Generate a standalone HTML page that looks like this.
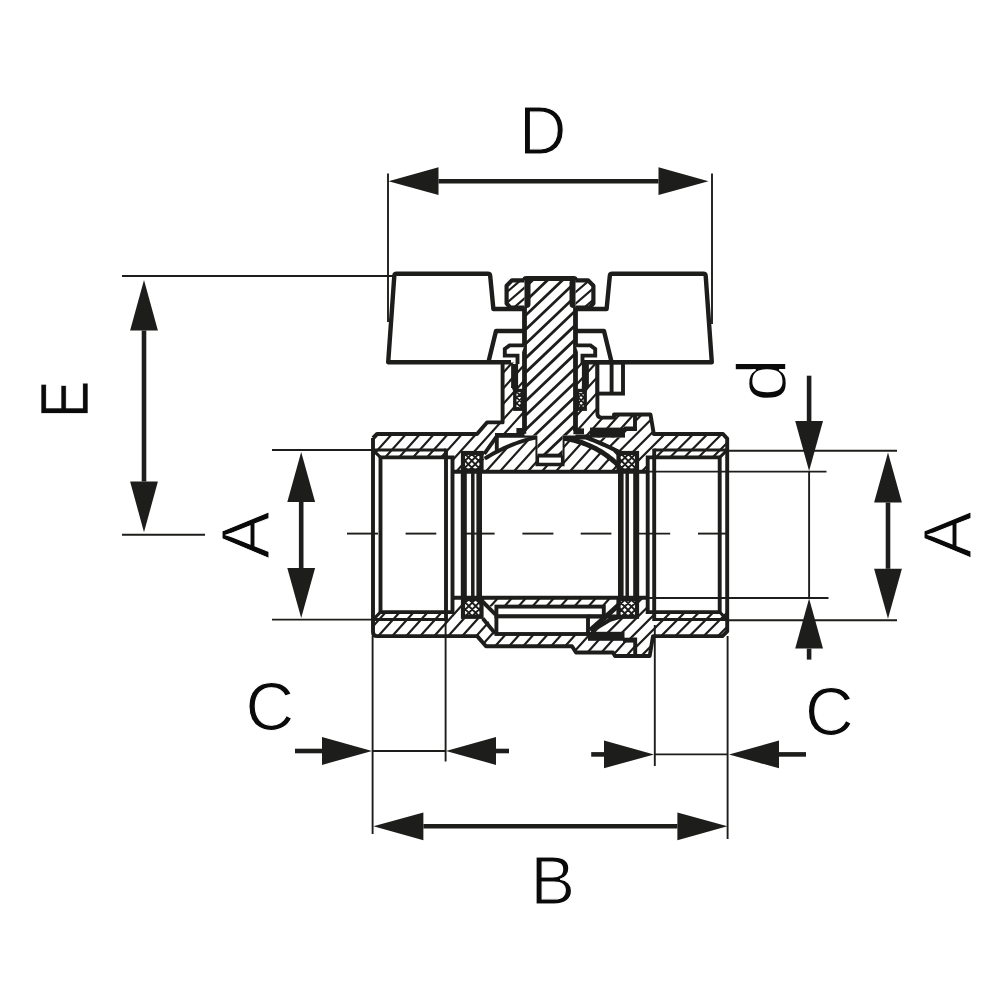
<!DOCTYPE html>
<html lang="en">
<head>
<meta charset="utf-8">
<title>Ball valve dimension drawing</title>
<style>
html,body{margin:0;padding:0;background:#fff;}
body{width:1000px;height:1000px;overflow:hidden;font-family:"Liberation Sans",sans-serif;}
svg{display:block;}
svg text{font-family:"Liberation Sans",sans-serif;}
</style>
</head>
<body>
<svg width="1000" height="1000" viewBox="0 0 1000 1000">
<rect width="1000" height="1000" fill="#fff"/>
<defs>
<clipPath id="c1"><path d="M373,438 L377,434 L477,434 L487,422.4 L502.6,422.4 L502.6,362.4 L597.4,362.4 L597.4,417.6 L614,417.6 L614,414.5 L650.5,414.5 L653.8,434 L723,434 L727.2,438 L727.2,632 L723,636.1 L653,636.1 L649.7,656 L615,656 L613,652.5 L576,652.5 L572,646.2 L486,646.2 L477.2,636.1 L377,636.1 L373,632 Z" clip-rule="nonzero"/></clipPath>
<clipPath id="c2"><path d="M588,437.4 L625,437.4 L625,431 L635,431 L635,414.5 L650.5,414.5 L653.8,434 L723,434 L727.2,438.6 L727.2,458 L647.6,458 L647.6,471.8 L639,471.8 L639,451.4 L621,453.2 L606,445.4 Z" clip-rule="nonzero"/></clipPath>
<clipPath id="c3"><path d="M588,632.2 L625,632.2 L625,638.6 L635.2,638.6 L635.2,656 L649.7,656 L653,636.1 L722.4,636.1 L727.2,631.4 L727.2,611 L647.6,611 L647.6,597.8 L639,597.8 L639,618 L622,616.5 L592.5,632.2 Z" clip-rule="nonzero"/></clipPath>
<clipPath id="c4"><path d="M473,471.8 L473,462 L484.8,458.6 L484.8,458.6 L487.47,456.95 L490.18,455.35 L492.92,453.8 L495.7,452.31 L498.52,450.86 L501.38,449.46 L504.27,448.12 L507.2,446.82 L510.17,445.58 L513.17,444.39 L516.22,443.25 L519.3,442.16 L522.42,441.12 L525.58,440.13 L528.77,439.19 L532,438.3 L537.4,437.4 L562.6,438.12 L564.48,438.38 L566.36,438.68 L568.24,439.02 L570.12,439.4 L572,439.81 L573.88,440.27 L575.76,440.76 L577.64,441.3 L579.52,441.88 L581.4,442.49 L583.28,443.16 L585.16,443.86 L587.04,444.61 L588.92,445.4 L590.8,446.25 L592.68,447.14 L594.56,448.08 L596.44,449.07 L598.32,450.12 L600.2,451.22 L602.08,452.37 L603.96,453.59 L605.84,454.87 L607.72,456.22 L609.6,457.64 L611.48,459.13 L613.36,460.69 L615.24,462.34 L617.12,464.08 L619,465.91 L627,465 L627,471.8 Z M537.4,430 L562.6,430 L562.6,464.4 L537.4,464.4 Z" clip-rule="evenodd"/></clipPath>
<clipPath id="c5"><path d="M466,597.8 L636,597.8 L636,606.6 L466,606.6 Z" clip-rule="nonzero"/></clipPath>
<clipPath id="c6"><path d="M524.5,278.5 L575.5,278.5 L575.5,435.6 L562.6,435.6 L562.6,455.5 L537.4,455.5 L537.4,435.6 L524.5,435.6 Z" clip-rule="nonzero"/></clipPath>
<clipPath id="c7"><path d="M524.5,280.3 L512,280.3 L506.6,285.8 L506.6,303.5 L510.5,307.6 L524.5,307.6 Z" clip-rule="nonzero"/></clipPath>
<clipPath id="c8"><path d="M575.5,280.3 L588,280.3 L593.4,285.8 L593.4,303.5 L589.5,307.6 L575.5,307.6 Z" clip-rule="nonzero"/></clipPath>
<clipPath id="c9"><path d="M514.8,391 L522.6,391 L522.6,408.8 L514.8,408.8 Z" clip-rule="nonzero"/></clipPath>
<clipPath id="c10"><path d="M577.4,391 L585.2,391 L585.2,408.8 L577.4,408.8 Z" clip-rule="nonzero"/></clipPath>
<clipPath id="c11"><path d="M463,453 L481.5,453 L481.5,470.5 L463,470.5 Z" clip-rule="nonzero"/></clipPath>
<clipPath id="c12"><path d="M618.5,453 L637,453 L637,470.5 L618.5,470.5 Z" clip-rule="nonzero"/></clipPath>
<clipPath id="c13"><path d="M463,599 L481.5,599 L481.5,616.8 L463,616.8 Z" clip-rule="nonzero"/></clipPath>
<clipPath id="c14"><path d="M618.5,599 L637,599 L637,616.8 L618.5,616.8 Z" clip-rule="nonzero"/></clipPath>
</defs>
<path d="M373,438 L377,434 L477,434 L487,422.4 L502.6,422.4 L502.6,362.4 L597.4,362.4 L597.4,417.6 L614,417.6 L614,414.5 L650.5,414.5 L653.8,434 L723,434 L727.2,438 L727.2,632 L723,636.1 L653,636.1 L649.7,656 L615,656 L613,652.5 L576,652.5 L572,646.2 L486,646.2 L477.2,636.1 L377,636.1 L373,632 Z" fill="#fff" fill-rule="nonzero"/>
<path d="M347.7,250 L-39.3,680 M361.7,250 L-25.3,680 M375.7,250 L-11.3,680 M389.7,250 L2.7,680 M403.7,250 L16.7,680 M417.7,250 L30.7,680 M431.7,250 L44.7,680 M445.7,250 L58.7,680 M459.7,250 L72.7,680 M473.7,250 L86.7,680 M487.7,250 L100.7,680 M501.7,250 L114.7,680 M515.7,250 L128.7,680 M529.7,250 L142.7,680 M543.7,250 L156.7,680 M557.7,250 L170.7,680 M571.7,250 L184.7,680 M585.7,250 L198.7,680 M599.7,250 L212.7,680 M613.7,250 L226.7,680 M627.7,250 L240.7,680 M641.7,250 L254.7,680 M655.7,250 L268.7,680 M669.7,250 L282.7,680 M683.7,250 L296.7,680 M697.7,250 L310.7,680 M711.7,250 L324.7,680 M725.7,250 L338.7,680 M739.7,250 L352.7,680 M753.7,250 L366.7,680 M767.7,250 L380.7,680 M781.7,250 L394.7,680 M795.7,250 L408.7,680 M809.7,250 L422.7,680 M823.7,250 L436.7,680 M837.7,250 L450.7,680 M851.7,250 L464.7,680 M865.7,250 L478.7,680 M879.7,250 L492.7,680 M893.7,250 L506.7,680 M907.7,250 L520.7,680 M921.7,250 L534.7,680 M935.7,250 L548.7,680 M949.7,250 L562.7,680 M963.7,250 L576.7,680 M977.7,250 L590.7,680 M991.7,250 L604.7,680 M1005.7,250 L618.7,680 M1019.7,250 L632.7,680 M1033.7,250 L646.7,680 M1047.7,250 L660.7,680 M1061.7,250 L674.7,680 M1075.7,250 L688.7,680 M1089.7,250 L702.7,680 M1103.7,250 L716.7,680 M1117.7,250 L730.7,680 M1131.7,250 L744.7,680 M1145.7,250 L758.7,680" fill="none" stroke="#1d1d1b" stroke-width="2.2" clip-path="url(#c1)"/>
<path d="M588,437.4 L625,437.4 L625,431 L635,431 L635,414.5 L650.5,414.5 L653.8,434 L723,434 L727.2,438.6 L727.2,458 L647.6,458 L647.6,471.8 L639,471.8 L639,451.4 L621,453.2 L606,445.4 Z" fill="#fff" fill-rule="nonzero"/>
<path d="M337.8,250 L-92.2,680 M352,250 L-78,680 M366.2,250 L-63.8,680 M380.4,250 L-49.6,680 M394.6,250 L-35.4,680 M408.8,250 L-21.2,680 M423,250 L-7,680 M437.2,250 L7.2,680 M451.4,250 L21.4,680 M465.6,250 L35.6,680 M479.8,250 L49.8,680 M494,250 L64,680 M508.2,250 L78.2,680 M522.4,250 L92.4,680 M536.6,250 L106.6,680 M550.8,250 L120.8,680 M565,250 L135,680 M579.2,250 L149.2,680 M593.4,250 L163.4,680 M607.6,250 L177.6,680 M621.8,250 L191.8,680 M636,250 L206,680 M650.2,250 L220.2,680 M664.4,250 L234.4,680 M678.6,250 L248.6,680 M692.8,250 L262.8,680 M707,250 L277,680 M721.2,250 L291.2,680 M735.4,250 L305.4,680 M749.6,250 L319.6,680 M763.8,250 L333.8,680 M778,250 L348,680 M792.2,250 L362.2,680 M806.4,250 L376.4,680 M820.6,250 L390.6,680 M834.8,250 L404.8,680 M849,250 L419,680 M863.2,250 L433.2,680 M877.4,250 L447.4,680 M891.6,250 L461.6,680 M905.8,250 L475.8,680 M920,250 L490,680 M934.2,250 L504.2,680 M948.4,250 L518.4,680 M962.6,250 L532.6,680 M976.8,250 L546.8,680 M991,250 L561,680 M1005.2,250 L575.2,680 M1019.4,250 L589.4,680 M1033.6,250 L603.6,680 M1047.8,250 L617.8,680 M1062,250 L632,680 M1076.2,250 L646.2,680 M1090.4,250 L660.4,680 M1104.6,250 L674.6,680 M1118.8,250 L688.8,680 M1133,250 L703,680 M1147.2,250 L717.2,680 M1161.4,250 L731.4,680 M1175.6,250 L745.6,680 M1189.8,250 L759.8,680" fill="none" stroke="#1d1d1b" stroke-width="2.2" clip-path="url(#c2)"/>
<path d="M588,632.2 L625,632.2 L625,638.6 L635.2,638.6 L635.2,656 L649.7,656 L653,636.1 L722.4,636.1 L727.2,631.4 L727.2,611 L647.6,611 L647.6,597.8 L639,597.8 L639,618 L622,616.5 L592.5,632.2 Z" fill="#fff" fill-rule="nonzero"/>
<path d="M337.2,250 L-92.8,680 M351.4,250 L-78.6,680 M365.6,250 L-64.4,680 M379.8,250 L-50.2,680 M394,250 L-36,680 M408.2,250 L-21.8,680 M422.4,250 L-7.6,680 M436.6,250 L6.6,680 M450.8,250 L20.8,680 M465,250 L35,680 M479.2,250 L49.2,680 M493.4,250 L63.4,680 M507.6,250 L77.6,680 M521.8,250 L91.8,680 M536,250 L106,680 M550.2,250 L120.2,680 M564.4,250 L134.4,680 M578.6,250 L148.6,680 M592.8,250 L162.8,680 M607,250 L177,680 M621.2,250 L191.2,680 M635.4,250 L205.4,680 M649.6,250 L219.6,680 M663.8,250 L233.8,680 M678,250 L248,680 M692.2,250 L262.2,680 M706.4,250 L276.4,680 M720.6,250 L290.6,680 M734.8,250 L304.8,680 M749,250 L319,680 M763.2,250 L333.2,680 M777.4,250 L347.4,680 M791.6,250 L361.6,680 M805.8,250 L375.8,680 M820,250 L390,680 M834.2,250 L404.2,680 M848.4,250 L418.4,680 M862.6,250 L432.6,680 M876.8,250 L446.8,680 M891,250 L461,680 M905.2,250 L475.2,680 M919.4,250 L489.4,680 M933.6,250 L503.6,680 M947.8,250 L517.8,680 M962,250 L532,680 M976.2,250 L546.2,680 M990.4,250 L560.4,680 M1004.6,250 L574.6,680 M1018.8,250 L588.8,680 M1033,250 L603,680 M1047.2,250 L617.2,680 M1061.4,250 L631.4,680 M1075.6,250 L645.6,680 M1089.8,250 L659.8,680 M1104,250 L674,680 M1118.2,250 L688.2,680 M1132.4,250 L702.4,680 M1146.6,250 L716.6,680 M1160.8,250 L730.8,680 M1175,250 L745,680 M1189.2,250 L759.2,680" fill="none" stroke="#1d1d1b" stroke-width="2.2" clip-path="url(#c3)"/>
<path d="M365,457.4 L452.5,457.4 L452.5,471.8 L461,471.8 L461,451.4 L483,451.4 L484.3,453.8 L496.2,437.2 L496.8,435.6 L586,435.6 L586.5,437.6 L588.92,438.53 L591.3,439.46 L593.65,440.4 L595.97,441.35 L598.25,442.3 L600.49,443.26 L602.7,444.23 L604.88,445.2 L607.01,446.18 L609.12,447.16 L611.19,448.15 L613.22,449.15 L615.22,450.15 L617.18,451.16 L619.11,452.18 L621,453.2 L621,451.4 L639,451.4 L639,471.8 L647.6,471.8 L647.6,457.4 L735,457.4 L735,612.2 L647.6,612.2 L647.6,597.8 L639,597.8 L639,618.2 L621,618.2 L621,616.9 L592,631.8 L586,634 L586,634 L496.8,634 L496.2,632.4 L484.3,615.8 L483,618.2 L461,618.2 L461,597.8 L452.5,597.8 L452.5,612.2 L365,612.2 Z" fill="#fff" stroke="none" stroke-width="0" />
<path d="M473,471.8 L473,462 L484.8,458.6 L484.8,458.6 L487.47,456.95 L490.18,455.35 L492.92,453.8 L495.7,452.31 L498.52,450.86 L501.38,449.46 L504.27,448.12 L507.2,446.82 L510.17,445.58 L513.17,444.39 L516.22,443.25 L519.3,442.16 L522.42,441.12 L525.58,440.13 L528.77,439.19 L532,438.3 L537.4,437.4 L562.6,438.12 L564.48,438.38 L566.36,438.68 L568.24,439.02 L570.12,439.4 L572,439.81 L573.88,440.27 L575.76,440.76 L577.64,441.3 L579.52,441.88 L581.4,442.49 L583.28,443.16 L585.16,443.86 L587.04,444.61 L588.92,445.4 L590.8,446.25 L592.68,447.14 L594.56,448.08 L596.44,449.07 L598.32,450.12 L600.2,451.22 L602.08,452.37 L603.96,453.59 L605.84,454.87 L607.72,456.22 L609.6,457.64 L611.48,459.13 L613.36,460.69 L615.24,462.34 L617.12,464.08 L619,465.91 L627,465 L627,471.8 Z M537.4,430 L562.6,430 L562.6,464.4 L537.4,464.4 Z" fill="#fff" fill-rule="evenodd"/>
<path d="M349.2,250 L-37.8,680 M363.2,250 L-23.8,680 M377.2,250 L-9.8,680 M391.2,250 L4.2,680 M405.2,250 L18.2,680 M419.2,250 L32.2,680 M433.2,250 L46.2,680 M447.2,250 L60.2,680 M461.2,250 L74.2,680 M475.2,250 L88.2,680 M489.2,250 L102.2,680 M503.2,250 L116.2,680 M517.2,250 L130.2,680 M531.2,250 L144.2,680 M545.2,250 L158.2,680 M559.2,250 L172.2,680 M573.2,250 L186.2,680 M587.2,250 L200.2,680 M601.2,250 L214.2,680 M615.2,250 L228.2,680 M629.2,250 L242.2,680 M643.2,250 L256.2,680 M657.2,250 L270.2,680 M671.2,250 L284.2,680 M685.2,250 L298.2,680 M699.2,250 L312.2,680 M713.2,250 L326.2,680 M727.2,250 L340.2,680 M741.2,250 L354.2,680 M755.2,250 L368.2,680 M769.2,250 L382.2,680 M783.2,250 L396.2,680 M797.2,250 L410.2,680 M811.2,250 L424.2,680 M825.2,250 L438.2,680 M839.2,250 L452.2,680 M853.2,250 L466.2,680 M867.2,250 L480.2,680 M881.2,250 L494.2,680 M895.2,250 L508.2,680 M909.2,250 L522.2,680 M923.2,250 L536.2,680 M937.2,250 L550.2,680 M951.2,250 L564.2,680 M965.2,250 L578.2,680 M979.2,250 L592.2,680 M993.2,250 L606.2,680 M1007.2,250 L620.2,680 M1021.2,250 L634.2,680 M1035.2,250 L648.2,680 M1049.2,250 L662.2,680 M1063.2,250 L676.2,680 M1077.2,250 L690.2,680 M1091.2,250 L704.2,680 M1105.2,250 L718.2,680 M1119.2,250 L732.2,680 M1133.2,250 L746.2,680 M1147.2,250 L760.2,680" fill="none" stroke="#1d1d1b" stroke-width="2.2" clip-path="url(#c4)"/>
<path d="M466,597.8 L636,597.8 L636,606.6 L466,606.6 Z" fill="#fff" fill-rule="nonzero"/>
<path d="M349.2,250 L-37.8,680 M363.2,250 L-23.8,680 M377.2,250 L-9.8,680 M391.2,250 L4.2,680 M405.2,250 L18.2,680 M419.2,250 L32.2,680 M433.2,250 L46.2,680 M447.2,250 L60.2,680 M461.2,250 L74.2,680 M475.2,250 L88.2,680 M489.2,250 L102.2,680 M503.2,250 L116.2,680 M517.2,250 L130.2,680 M531.2,250 L144.2,680 M545.2,250 L158.2,680 M559.2,250 L172.2,680 M573.2,250 L186.2,680 M587.2,250 L200.2,680 M601.2,250 L214.2,680 M615.2,250 L228.2,680 M629.2,250 L242.2,680 M643.2,250 L256.2,680 M657.2,250 L270.2,680 M671.2,250 L284.2,680 M685.2,250 L298.2,680 M699.2,250 L312.2,680 M713.2,250 L326.2,680 M727.2,250 L340.2,680 M741.2,250 L354.2,680 M755.2,250 L368.2,680 M769.2,250 L382.2,680 M783.2,250 L396.2,680 M797.2,250 L410.2,680 M811.2,250 L424.2,680 M825.2,250 L438.2,680 M839.2,250 L452.2,680 M853.2,250 L466.2,680 M867.2,250 L480.2,680 M881.2,250 L494.2,680 M895.2,250 L508.2,680 M909.2,250 L522.2,680 M923.2,250 L536.2,680 M937.2,250 L550.2,680 M951.2,250 L564.2,680 M965.2,250 L578.2,680 M979.2,250 L592.2,680 M993.2,250 L606.2,680 M1007.2,250 L620.2,680 M1021.2,250 L634.2,680 M1035.2,250 L648.2,680 M1049.2,250 L662.2,680 M1063.2,250 L676.2,680 M1077.2,250 L690.2,680 M1091.2,250 L704.2,680 M1105.2,250 L718.2,680 M1119.2,250 L732.2,680 M1133.2,250 L746.2,680 M1147.2,250 L760.2,680" fill="none" stroke="#1d1d1b" stroke-width="2.2" clip-path="url(#c5)"/>
<path d="M484.8,458.6 L487.47,456.95 L490.18,455.35 L492.92,453.8 L495.7,452.31 L498.52,450.86 L501.38,449.46 L504.27,448.12 L507.2,446.82 L510.17,445.58 L513.17,444.39 L516.22,443.25 L519.3,442.16 L522.42,441.12 L525.58,440.13 L528.77,439.19 L532,438.3 L537.4,437.2" fill="none" stroke="#1d1d1b" stroke-width="4" />
<path d="M562.6,438.12 L564.95,438.45 L567.3,438.85 L569.65,439.3 L572,439.81 L574.35,440.39 L576.7,441.03 L579.05,441.73 L581.4,442.49 L583.75,443.33 L586.1,444.23 L588.45,445.2 L590.8,446.25 L593.15,447.37 L595.5,448.57 L597.85,449.85 L600.2,451.22 L602.55,452.67 L604.9,454.23 L607.25,455.88 L609.6,457.64 L611.95,459.51 L614.3,461.51 L616.65,463.64 L619,465.91" fill="none" stroke="#1d1d1b" stroke-width="5" />
<path d="M586.5,437.6 L588.92,438.53 L591.3,439.46 L593.65,440.4 L595.97,441.35 L598.25,442.3 L600.49,443.26 L602.7,444.23 L604.88,445.2 L607.01,446.18 L609.12,447.16 L611.19,448.15 L613.22,449.15 L615.22,450.15 L617.18,451.16 L619.11,452.18 L621,453.2" fill="none" stroke="#1d1d1b" stroke-width="4.2" />
<path d="M590.4,630.2 L598,623.4 L610,612.8 L618.8,604.9" fill="none" stroke="#1d1d1b" stroke-width="5" />
<path d="M591,631.6 L598,627 L610,619.8 L620,616.8" fill="none" stroke="#1d1d1b" stroke-width="4.2" />
<rect x="496.4" y="606.6" width="107.4" height="9.8" fill="#fff" stroke="#1d1d1b" stroke-width="3.9" />
<rect x="496.4" y="616.4" width="91.6" height="17.6" fill="#fff" stroke="#1d1d1b" stroke-width="3.9" />
<line x1="588" y1="616.4" x2="619" y2="616.4" stroke="#1d1d1b" stroke-width="3.9" />
<line x1="482" y1="601" x2="495.6" y2="614.6" stroke="#1d1d1b" stroke-width="3.9" />
<line x1="482.8" y1="618.6" x2="495.2" y2="633.4" stroke="#1d1d1b" stroke-width="3.9" />
<line x1="484.3" y1="453.8" x2="496.2" y2="437.2" stroke="#1d1d1b" stroke-width="3.9" />
<line x1="496.8" y1="435.6" x2="496.8" y2="451" stroke="#1d1d1b" stroke-width="3.9" />
<line x1="495" y1="435.4" x2="537.4" y2="435.4" stroke="#1d1d1b" stroke-width="4.6" />
<line x1="562.6" y1="437" x2="592" y2="437" stroke="#1d1d1b" stroke-width="5" />
<path d="M537.4,435.6 L537.4,464.4 L562.6,464.4 L562.6,437" fill="none" stroke="#1d1d1b" stroke-width="3.9" />
<rect x="590" y="427.6" width="35" height="10" fill="#1d1d1b" stroke="none" stroke-width="0" />
<rect x="624" y="426.5" width="12.5" height="4.5" fill="#1d1d1b" stroke="none" stroke-width="0" />
<line x1="635" y1="416" x2="635" y2="431" stroke="#1d1d1b" stroke-width="3.9" />
<rect x="588" y="631.8" width="36.5" height="9" fill="#1d1d1b" stroke="none" stroke-width="0" />
<rect x="623" y="637.7" width="14" height="4.9" fill="#1d1d1b" stroke="none" stroke-width="0" />
<line x1="635.2" y1="637.7" x2="635.2" y2="654.5" stroke="#1d1d1b" stroke-width="3.9" />
<path d="M524.5,278.5 L575.5,278.5 L575.5,435.6 L562.6,435.6 L562.6,455.5 L537.4,455.5 L537.4,435.6 L524.5,435.6 Z" fill="#fff" fill-rule="nonzero"/>
<path d="M339.2,250 L-112.3,680 M354.2,250 L-97.3,680 M369.2,250 L-82.3,680 M384.2,250 L-67.3,680 M399.2,250 L-52.3,680 M414.2,250 L-37.3,680 M429.2,250 L-22.3,680 M444.2,250 L-7.3,680 M459.2,250 L7.7,680 M474.2,250 L22.7,680 M489.2,250 L37.7,680 M504.2,250 L52.7,680 M519.2,250 L67.7,680 M534.2,250 L82.7,680 M549.2,250 L97.7,680 M564.2,250 L112.7,680 M579.2,250 L127.7,680 M594.2,250 L142.7,680 M609.2,250 L157.7,680 M624.2,250 L172.7,680 M639.2,250 L187.7,680 M654.2,250 L202.7,680 M669.2,250 L217.7,680 M684.2,250 L232.7,680 M699.2,250 L247.7,680 M714.2,250 L262.7,680 M729.2,250 L277.7,680 M744.2,250 L292.7,680 M759.2,250 L307.7,680 M774.2,250 L322.7,680 M789.2,250 L337.7,680 M804.2,250 L352.7,680 M819.2,250 L367.7,680 M834.2,250 L382.7,680 M849.2,250 L397.7,680 M864.2,250 L412.7,680 M879.2,250 L427.7,680 M894.2,250 L442.7,680 M909.2,250 L457.7,680 M924.2,250 L472.7,680 M939.2,250 L487.7,680 M954.2,250 L502.7,680 M969.2,250 L517.7,680 M984.2,250 L532.7,680 M999.2,250 L547.7,680 M1014.2,250 L562.7,680 M1029.2,250 L577.7,680 M1044.2,250 L592.7,680 M1059.2,250 L607.7,680 M1074.2,250 L622.7,680 M1089.2,250 L637.7,680 M1104.2,250 L652.7,680 M1119.2,250 L667.7,680 M1134.2,250 L682.7,680 M1149.2,250 L697.7,680 M1164.2,250 L712.7,680 M1179.2,250 L727.7,680 M1194.2,250 L742.7,680 M1209.2,250 L757.7,680" fill="none" stroke="#1d1d1b" stroke-width="2.8" clip-path="url(#c6)"/>
<rect x="539.2" y="457.3" width="21.6" height="5.2" fill="#fff" stroke="none" stroke-width="0" />
<line x1="537.4" y1="455.6" x2="562.6" y2="455.6" stroke="#1d1d1b" stroke-width="3.9" />
<path d="M524.5,431 L524.5,280.5 Q524.5,278.5 526.5,278.5 L573.5,278.5 Q575.5,278.5 575.5,280.5 L575.5,431" fill="none" stroke="#1d1d1b" stroke-width="4.8" />
<line x1="526.5" y1="283" x2="526.5" y2="304" stroke="#1d1d1b" stroke-width="8" stroke-linecap="round"/>
<line x1="573.5" y1="283" x2="573.5" y2="304" stroke="#1d1d1b" stroke-width="8" stroke-linecap="round"/>
<rect x="516.4" y="428" width="9.8" height="5.8" fill="#1d1d1b" stroke="none" stroke-width="0" />
<rect x="573.4" y="428.4" width="10.6" height="5.8" fill="#1d1d1b" stroke="none" stroke-width="0" />
<path d="M524.5,280.3 L512,280.3 L506.6,285.8 L506.6,303.5 L510.5,307.6 L524.5,307.6 Z" fill="#fff" fill-rule="nonzero"/>
<path d="M343.2,250 L-155.6,680 M355.7,250 L-143.1,680 M368.2,250 L-130.6,680 M380.7,250 L-118.1,680 M393.2,250 L-105.6,680 M405.7,250 L-93.1,680 M418.2,250 L-80.6,680 M430.7,250 L-68.1,680 M443.2,250 L-55.6,680 M455.7,250 L-43.1,680 M468.2,250 L-30.6,680 M480.7,250 L-18.1,680 M493.2,250 L-5.6,680 M505.7,250 L6.9,680 M518.2,250 L19.4,680 M530.7,250 L31.9,680 M543.2,250 L44.4,680 M555.7,250 L56.9,680 M568.2,250 L69.4,680 M580.7,250 L81.9,680 M593.2,250 L94.4,680 M605.7,250 L106.9,680 M618.2,250 L119.4,680 M630.7,250 L131.9,680 M643.2,250 L144.4,680 M655.7,250 L156.9,680 M668.2,250 L169.4,680 M680.7,250 L181.9,680 M693.2,250 L194.4,680 M705.7,250 L206.9,680 M718.2,250 L219.4,680 M730.7,250 L231.9,680 M743.2,250 L244.4,680 M755.7,250 L256.9,680 M768.2,250 L269.4,680 M780.7,250 L281.9,680 M793.2,250 L294.4,680 M805.7,250 L306.9,680 M818.2,250 L319.4,680 M830.7,250 L331.9,680 M843.2,250 L344.4,680 M855.7,250 L356.9,680 M868.2,250 L369.4,680 M880.7,250 L381.9,680 M893.2,250 L394.4,680 M905.7,250 L406.9,680 M918.2,250 L419.4,680 M930.7,250 L431.9,680 M943.2,250 L444.4,680 M955.7,250 L456.9,680 M968.2,250 L469.4,680 M980.7,250 L481.9,680 M993.2,250 L494.4,680 M1005.7,250 L506.9,680 M1018.2,250 L519.4,680 M1030.7,250 L531.9,680 M1043.2,250 L544.4,680 M1055.7,250 L556.9,680 M1068.2,250 L569.4,680 M1080.7,250 L581.9,680 M1093.2,250 L594.4,680 M1105.7,250 L606.9,680 M1118.2,250 L619.4,680 M1130.7,250 L631.9,680 M1143.2,250 L644.4,680 M1155.7,250 L656.9,680 M1168.2,250 L669.4,680 M1180.7,250 L681.9,680 M1193.2,250 L694.4,680 M1205.7,250 L706.9,680 M1218.2,250 L719.4,680 M1230.7,250 L731.9,680 M1243.2,250 L744.4,680 M1255.7,250 L756.9,680" fill="none" stroke="#1d1d1b" stroke-width="2.2" clip-path="url(#c7)"/>
<path d="M575.5,280.3 L588,280.3 L593.4,285.8 L593.4,303.5 L589.5,307.6 L575.5,307.6 Z" fill="#fff" fill-rule="nonzero"/>
<path d="M345.2,250 L-153.6,680 M358.5,250 L-140.3,680 M371.8,250 L-127,680 M385.1,250 L-113.7,680 M398.4,250 L-100.4,680 M411.7,250 L-87.1,680 M425,250 L-73.8,680 M438.3,250 L-60.5,680 M451.6,250 L-47.2,680 M464.9,250 L-33.9,680 M478.2,250 L-20.6,680 M491.5,250 L-7.3,680 M504.8,250 L6,680 M518.1,250 L19.3,680 M531.4,250 L32.6,680 M544.7,250 L45.9,680 M558,250 L59.2,680 M571.3,250 L72.5,680 M584.6,250 L85.8,680 M597.9,250 L99.1,680 M611.2,250 L112.4,680 M624.5,250 L125.7,680 M637.8,250 L139,680 M651.1,250 L152.3,680 M664.4,250 L165.6,680 M677.7,250 L178.9,680 M691,250 L192.2,680 M704.3,250 L205.5,680 M717.6,250 L218.8,680 M730.9,250 L232.1,680 M744.2,250 L245.4,680 M757.5,250 L258.7,680 M770.8,250 L272,680 M784.1,250 L285.3,680 M797.4,250 L298.6,680 M810.7,250 L311.9,680 M824,250 L325.2,680 M837.3,250 L338.5,680 M850.6,250 L351.8,680 M863.9,250 L365.1,680 M877.2,250 L378.4,680 M890.5,250 L391.7,680 M903.8,250 L405,680 M917.1,250 L418.3,680 M930.4,250 L431.6,680 M943.7,250 L444.9,680 M957,250 L458.2,680 M970.3,250 L471.5,680 M983.6,250 L484.8,680 M996.9,250 L498.1,680 M1010.2,250 L511.4,680 M1023.5,250 L524.7,680 M1036.8,250 L538,680 M1050.1,250 L551.3,680 M1063.4,250 L564.6,680 M1076.7,250 L577.9,680 M1090,250 L591.2,680 M1103.3,250 L604.5,680 M1116.6,250 L617.8,680 M1129.9,250 L631.1,680 M1143.2,250 L644.4,680 M1156.5,250 L657.7,680 M1169.8,250 L671,680 M1183.1,250 L684.3,680 M1196.4,250 L697.6,680 M1209.7,250 L710.9,680 M1223,250 L724.2,680 M1236.3,250 L737.5,680 M1249.6,250 L750.8,680" fill="none" stroke="#1d1d1b" stroke-width="2.2" clip-path="url(#c8)"/>
<path d="M524.5,280.3 L512,280.3 L506.6,285.8 L506.6,303.5 L510.5,307.6 L524.5,307.6" fill="none" stroke="#1d1d1b" stroke-width="4.2" stroke-linejoin="round"/>
<path d="M575.5,280.3 L588,280.3 L593.4,285.8 L593.4,303.5 L589.5,307.6 L575.5,307.6" fill="none" stroke="#1d1d1b" stroke-width="4.2" stroke-linejoin="round"/>
<path d="M524.5,345.4 L509.5,345.4 L504.8,349 L504.8,355.6 L517.5,355.6 L517.5,364" fill="#fff" stroke="#1d1d1b" stroke-width="3.9" />
<path d="M575.5,345.4 L590.5,345.4 L595.2,349 L595.2,355.6 L582.5,355.6 L582.5,364" fill="#fff" stroke="#1d1d1b" stroke-width="3.9" />
<line x1="514.6" y1="364" x2="514.6" y2="388" stroke="#1d1d1b" stroke-width="7" />
<line x1="585.4" y1="364" x2="585.4" y2="388" stroke="#1d1d1b" stroke-width="7" />
<path d="M511.1,386 L518.1,386 L518.1,394 L514.4,394 Z" fill="#1d1d1b" stroke="none" stroke-width="0" />
<path d="M588.9,386 L581.9,386 L581.9,394 L585.6,394 Z" fill="#1d1d1b" stroke="none" stroke-width="0" />
<path d="M514.8,391 L522.6,391 L522.6,408.8 L514.8,408.8 Z" fill="#fff" fill-rule="nonzero"/>
<path d="M345.1,250 L-84.9,680 M350.7,250 L-79.3,680 M356.3,250 L-73.7,680 M361.9,250 L-68.1,680 M367.5,250 L-62.5,680 M373.1,250 L-56.9,680 M378.7,250 L-51.3,680 M384.3,250 L-45.7,680 M389.9,250 L-40.1,680 M395.5,250 L-34.5,680 M401.1,250 L-28.9,680 M406.7,250 L-23.3,680 M412.3,250 L-17.7,680 M417.9,250 L-12.1,680 M423.5,250 L-6.5,680 M429.1,250 L-0.9,680 M434.7,250 L4.7,680 M440.3,250 L10.3,680 M445.9,250 L15.9,680 M451.5,250 L21.5,680 M457.1,250 L27.1,680 M462.7,250 L32.7,680 M468.3,250 L38.3,680 M473.9,250 L43.9,680 M479.5,250 L49.5,680 M485.1,250 L55.1,680 M490.7,250 L60.7,680 M496.3,250 L66.3,680 M501.9,250 L71.9,680 M507.5,250 L77.5,680 M513.1,250 L83.1,680 M518.7,250 L88.7,680 M524.3,250 L94.3,680 M529.9,250 L99.9,680 M535.5,250 L105.5,680 M541.1,250 L111.1,680 M546.7,250 L116.7,680 M552.3,250 L122.3,680 M557.9,250 L127.9,680 M563.5,250 L133.5,680 M569.1,250 L139.1,680 M574.7,250 L144.7,680 M580.3,250 L150.3,680 M585.9,250 L155.9,680 M591.5,250 L161.5,680 M597.1,250 L167.1,680 M602.7,250 L172.7,680 M608.3,250 L178.3,680 M613.9,250 L183.9,680 M619.5,250 L189.5,680 M625.1,250 L195.1,680 M630.7,250 L200.7,680 M636.3,250 L206.3,680 M641.9,250 L211.9,680 M647.5,250 L217.5,680 M653.1,250 L223.1,680 M658.7,250 L228.7,680 M664.3,250 L234.3,680 M669.9,250 L239.9,680 M675.5,250 L245.5,680 M681.1,250 L251.1,680 M686.7,250 L256.7,680 M692.3,250 L262.3,680 M697.9,250 L267.9,680 M703.5,250 L273.5,680 M709.1,250 L279.1,680 M714.7,250 L284.7,680 M720.3,250 L290.3,680 M725.9,250 L295.9,680 M731.5,250 L301.5,680 M737.1,250 L307.1,680 M742.7,250 L312.7,680 M748.3,250 L318.3,680 M753.9,250 L323.9,680 M759.5,250 L329.5,680 M765.1,250 L335.1,680 M770.7,250 L340.7,680 M776.3,250 L346.3,680 M781.9,250 L351.9,680 M787.5,250 L357.5,680 M793.1,250 L363.1,680 M798.7,250 L368.7,680 M804.3,250 L374.3,680 M809.9,250 L379.9,680 M815.5,250 L385.5,680 M821.1,250 L391.1,680 M826.7,250 L396.7,680 M832.3,250 L402.3,680 M837.9,250 L407.9,680 M843.5,250 L413.5,680 M849.1,250 L419.1,680 M854.7,250 L424.7,680 M860.3,250 L430.3,680 M865.9,250 L435.9,680 M871.5,250 L441.5,680 M877.1,250 L447.1,680 M882.7,250 L452.7,680 M888.3,250 L458.3,680 M893.9,250 L463.9,680 M899.5,250 L469.5,680 M905.1,250 L475.1,680 M910.7,250 L480.7,680 M916.3,250 L486.3,680 M921.9,250 L491.9,680 M927.5,250 L497.5,680 M933.1,250 L503.1,680 M938.7,250 L508.7,680 M944.3,250 L514.3,680 M949.9,250 L519.9,680 M955.5,250 L525.5,680 M961.1,250 L531.1,680 M966.7,250 L536.7,680 M972.3,250 L542.3,680 M977.9,250 L547.9,680 M983.5,250 L553.5,680 M989.1,250 L559.1,680 M994.7,250 L564.7,680 M1000.3,250 L570.3,680 M1005.9,250 L575.9,680 M1011.5,250 L581.5,680 M1017.1,250 L587.1,680 M1022.7,250 L592.7,680 M1028.3,250 L598.3,680 M1033.9,250 L603.9,680 M1039.5,250 L609.5,680 M1045.1,250 L615.1,680 M1050.7,250 L620.7,680 M1056.3,250 L626.3,680 M1061.9,250 L631.9,680 M1067.5,250 L637.5,680 M1073.1,250 L643.1,680 M1078.7,250 L648.7,680 M1084.3,250 L654.3,680 M1089.9,250 L659.9,680 M1095.5,250 L665.5,680 M1101.1,250 L671.1,680 M1106.7,250 L676.7,680 M1112.3,250 L682.3,680 M1117.9,250 L687.9,680 M1123.5,250 L693.5,680 M1129.1,250 L699.1,680 M1134.7,250 L704.7,680 M1140.3,250 L710.3,680 M1145.9,250 L715.9,680 M1151.5,250 L721.5,680 M1157.1,250 L727.1,680 M1162.7,250 L732.7,680 M1168.3,250 L738.3,680 M1173.9,250 L743.9,680 M1179.5,250 L749.5,680 M1185.1,250 L755.1,680 M-84.5,250 L345.5,680 M-78.9,250 L351.1,680 M-73.3,250 L356.7,680 M-67.7,250 L362.3,680 M-62.1,250 L367.9,680 M-56.5,250 L373.5,680 M-50.9,250 L379.1,680 M-45.3,250 L384.7,680 M-39.7,250 L390.3,680 M-34.1,250 L395.9,680 M-28.5,250 L401.5,680 M-22.9,250 L407.1,680 M-17.3,250 L412.7,680 M-11.7,250 L418.3,680 M-6.1,250 L423.9,680 M-0.5,250 L429.5,680 M5.1,250 L435.1,680 M10.7,250 L440.7,680 M16.3,250 L446.3,680 M21.9,250 L451.9,680 M27.5,250 L457.5,680 M33.1,250 L463.1,680 M38.7,250 L468.7,680 M44.3,250 L474.3,680 M49.9,250 L479.9,680 M55.5,250 L485.5,680 M61.1,250 L491.1,680 M66.7,250 L496.7,680 M72.3,250 L502.3,680 M77.9,250 L507.9,680 M83.5,250 L513.5,680 M89.1,250 L519.1,680 M94.7,250 L524.7,680 M100.3,250 L530.3,680 M105.9,250 L535.9,680 M111.5,250 L541.5,680 M117.1,250 L547.1,680 M122.7,250 L552.7,680 M128.3,250 L558.3,680 M133.9,250 L563.9,680 M139.5,250 L569.5,680 M145.1,250 L575.1,680 M150.7,250 L580.7,680 M156.3,250 L586.3,680 M161.9,250 L591.9,680 M167.5,250 L597.5,680 M173.1,250 L603.1,680 M178.7,250 L608.7,680 M184.3,250 L614.3,680 M189.9,250 L619.9,680 M195.5,250 L625.5,680 M201.1,250 L631.1,680 M206.7,250 L636.7,680 M212.3,250 L642.3,680 M217.9,250 L647.9,680 M223.5,250 L653.5,680 M229.1,250 L659.1,680 M234.7,250 L664.7,680 M240.3,250 L670.3,680 M245.9,250 L675.9,680 M251.5,250 L681.5,680 M257.1,250 L687.1,680 M262.7,250 L692.7,680 M268.3,250 L698.3,680 M273.9,250 L703.9,680 M279.5,250 L709.5,680 M285.1,250 L715.1,680 M290.7,250 L720.7,680 M296.3,250 L726.3,680 M301.9,250 L731.9,680 M307.5,250 L737.5,680 M313.1,250 L743.1,680 M318.7,250 L748.7,680 M324.3,250 L754.3,680 M329.9,250 L759.9,680 M335.5,250 L765.5,680 M341.1,250 L771.1,680 M346.7,250 L776.7,680 M352.3,250 L782.3,680 M357.9,250 L787.9,680 M363.5,250 L793.5,680 M369.1,250 L799.1,680 M374.7,250 L804.7,680 M380.3,250 L810.3,680 M385.9,250 L815.9,680 M391.5,250 L821.5,680 M397.1,250 L827.1,680 M402.7,250 L832.7,680 M408.3,250 L838.3,680 M413.9,250 L843.9,680 M419.5,250 L849.5,680 M425.1,250 L855.1,680 M430.7,250 L860.7,680 M436.3,250 L866.3,680 M441.9,250 L871.9,680 M447.5,250 L877.5,680 M453.1,250 L883.1,680 M458.7,250 L888.7,680 M464.3,250 L894.3,680 M469.9,250 L899.9,680 M475.5,250 L905.5,680 M481.1,250 L911.1,680 M486.7,250 L916.7,680 M492.3,250 L922.3,680 M497.9,250 L927.9,680 M503.5,250 L933.5,680 M509.1,250 L939.1,680 M514.7,250 L944.7,680 M520.3,250 L950.3,680 M525.9,250 L955.9,680 M531.5,250 L961.5,680 M537.1,250 L967.1,680 M542.7,250 L972.7,680 M548.3,250 L978.3,680 M553.9,250 L983.9,680 M559.5,250 L989.5,680 M565.1,250 L995.1,680 M570.7,250 L1000.7,680 M576.3,250 L1006.3,680 M581.9,250 L1011.9,680 M587.5,250 L1017.5,680 M593.1,250 L1023.1,680 M598.7,250 L1028.7,680 M604.3,250 L1034.3,680 M609.9,250 L1039.9,680 M615.5,250 L1045.5,680 M621.1,250 L1051.1,680 M626.7,250 L1056.7,680 M632.3,250 L1062.3,680 M637.9,250 L1067.9,680 M643.5,250 L1073.5,680 M649.1,250 L1079.1,680 M654.7,250 L1084.7,680 M660.3,250 L1090.3,680 M665.9,250 L1095.9,680 M671.5,250 L1101.5,680 M677.1,250 L1107.1,680 M682.7,250 L1112.7,680 M688.3,250 L1118.3,680 M693.9,250 L1123.9,680 M699.5,250 L1129.5,680 M705.1,250 L1135.1,680 M710.7,250 L1140.7,680 M716.3,250 L1146.3,680 M721.9,250 L1151.9,680 M727.5,250 L1157.5,680 M733.1,250 L1163.1,680 M738.7,250 L1168.7,680 M744.3,250 L1174.3,680 M749.9,250 L1179.9,680 M755.5,250 L1185.5,680" fill="none" stroke="#1d1d1b" stroke-width="1.7" clip-path="url(#c9)"/>
<rect x="514.8" y="390.5" width="7.8" height="18.7" fill="none" stroke="#1d1d1b" stroke-width="3.4" />
<path d="M577.4,391 L585.2,391 L585.2,408.8 L577.4,408.8 Z" fill="#fff" fill-rule="nonzero"/>
<path d="M345.1,250 L-84.9,680 M350.7,250 L-79.3,680 M356.3,250 L-73.7,680 M361.9,250 L-68.1,680 M367.5,250 L-62.5,680 M373.1,250 L-56.9,680 M378.7,250 L-51.3,680 M384.3,250 L-45.7,680 M389.9,250 L-40.1,680 M395.5,250 L-34.5,680 M401.1,250 L-28.9,680 M406.7,250 L-23.3,680 M412.3,250 L-17.7,680 M417.9,250 L-12.1,680 M423.5,250 L-6.5,680 M429.1,250 L-0.9,680 M434.7,250 L4.7,680 M440.3,250 L10.3,680 M445.9,250 L15.9,680 M451.5,250 L21.5,680 M457.1,250 L27.1,680 M462.7,250 L32.7,680 M468.3,250 L38.3,680 M473.9,250 L43.9,680 M479.5,250 L49.5,680 M485.1,250 L55.1,680 M490.7,250 L60.7,680 M496.3,250 L66.3,680 M501.9,250 L71.9,680 M507.5,250 L77.5,680 M513.1,250 L83.1,680 M518.7,250 L88.7,680 M524.3,250 L94.3,680 M529.9,250 L99.9,680 M535.5,250 L105.5,680 M541.1,250 L111.1,680 M546.7,250 L116.7,680 M552.3,250 L122.3,680 M557.9,250 L127.9,680 M563.5,250 L133.5,680 M569.1,250 L139.1,680 M574.7,250 L144.7,680 M580.3,250 L150.3,680 M585.9,250 L155.9,680 M591.5,250 L161.5,680 M597.1,250 L167.1,680 M602.7,250 L172.7,680 M608.3,250 L178.3,680 M613.9,250 L183.9,680 M619.5,250 L189.5,680 M625.1,250 L195.1,680 M630.7,250 L200.7,680 M636.3,250 L206.3,680 M641.9,250 L211.9,680 M647.5,250 L217.5,680 M653.1,250 L223.1,680 M658.7,250 L228.7,680 M664.3,250 L234.3,680 M669.9,250 L239.9,680 M675.5,250 L245.5,680 M681.1,250 L251.1,680 M686.7,250 L256.7,680 M692.3,250 L262.3,680 M697.9,250 L267.9,680 M703.5,250 L273.5,680 M709.1,250 L279.1,680 M714.7,250 L284.7,680 M720.3,250 L290.3,680 M725.9,250 L295.9,680 M731.5,250 L301.5,680 M737.1,250 L307.1,680 M742.7,250 L312.7,680 M748.3,250 L318.3,680 M753.9,250 L323.9,680 M759.5,250 L329.5,680 M765.1,250 L335.1,680 M770.7,250 L340.7,680 M776.3,250 L346.3,680 M781.9,250 L351.9,680 M787.5,250 L357.5,680 M793.1,250 L363.1,680 M798.7,250 L368.7,680 M804.3,250 L374.3,680 M809.9,250 L379.9,680 M815.5,250 L385.5,680 M821.1,250 L391.1,680 M826.7,250 L396.7,680 M832.3,250 L402.3,680 M837.9,250 L407.9,680 M843.5,250 L413.5,680 M849.1,250 L419.1,680 M854.7,250 L424.7,680 M860.3,250 L430.3,680 M865.9,250 L435.9,680 M871.5,250 L441.5,680 M877.1,250 L447.1,680 M882.7,250 L452.7,680 M888.3,250 L458.3,680 M893.9,250 L463.9,680 M899.5,250 L469.5,680 M905.1,250 L475.1,680 M910.7,250 L480.7,680 M916.3,250 L486.3,680 M921.9,250 L491.9,680 M927.5,250 L497.5,680 M933.1,250 L503.1,680 M938.7,250 L508.7,680 M944.3,250 L514.3,680 M949.9,250 L519.9,680 M955.5,250 L525.5,680 M961.1,250 L531.1,680 M966.7,250 L536.7,680 M972.3,250 L542.3,680 M977.9,250 L547.9,680 M983.5,250 L553.5,680 M989.1,250 L559.1,680 M994.7,250 L564.7,680 M1000.3,250 L570.3,680 M1005.9,250 L575.9,680 M1011.5,250 L581.5,680 M1017.1,250 L587.1,680 M1022.7,250 L592.7,680 M1028.3,250 L598.3,680 M1033.9,250 L603.9,680 M1039.5,250 L609.5,680 M1045.1,250 L615.1,680 M1050.7,250 L620.7,680 M1056.3,250 L626.3,680 M1061.9,250 L631.9,680 M1067.5,250 L637.5,680 M1073.1,250 L643.1,680 M1078.7,250 L648.7,680 M1084.3,250 L654.3,680 M1089.9,250 L659.9,680 M1095.5,250 L665.5,680 M1101.1,250 L671.1,680 M1106.7,250 L676.7,680 M1112.3,250 L682.3,680 M1117.9,250 L687.9,680 M1123.5,250 L693.5,680 M1129.1,250 L699.1,680 M1134.7,250 L704.7,680 M1140.3,250 L710.3,680 M1145.9,250 L715.9,680 M1151.5,250 L721.5,680 M1157.1,250 L727.1,680 M1162.7,250 L732.7,680 M1168.3,250 L738.3,680 M1173.9,250 L743.9,680 M1179.5,250 L749.5,680 M1185.1,250 L755.1,680 M-84.5,250 L345.5,680 M-78.9,250 L351.1,680 M-73.3,250 L356.7,680 M-67.7,250 L362.3,680 M-62.1,250 L367.9,680 M-56.5,250 L373.5,680 M-50.9,250 L379.1,680 M-45.3,250 L384.7,680 M-39.7,250 L390.3,680 M-34.1,250 L395.9,680 M-28.5,250 L401.5,680 M-22.9,250 L407.1,680 M-17.3,250 L412.7,680 M-11.7,250 L418.3,680 M-6.1,250 L423.9,680 M-0.5,250 L429.5,680 M5.1,250 L435.1,680 M10.7,250 L440.7,680 M16.3,250 L446.3,680 M21.9,250 L451.9,680 M27.5,250 L457.5,680 M33.1,250 L463.1,680 M38.7,250 L468.7,680 M44.3,250 L474.3,680 M49.9,250 L479.9,680 M55.5,250 L485.5,680 M61.1,250 L491.1,680 M66.7,250 L496.7,680 M72.3,250 L502.3,680 M77.9,250 L507.9,680 M83.5,250 L513.5,680 M89.1,250 L519.1,680 M94.7,250 L524.7,680 M100.3,250 L530.3,680 M105.9,250 L535.9,680 M111.5,250 L541.5,680 M117.1,250 L547.1,680 M122.7,250 L552.7,680 M128.3,250 L558.3,680 M133.9,250 L563.9,680 M139.5,250 L569.5,680 M145.1,250 L575.1,680 M150.7,250 L580.7,680 M156.3,250 L586.3,680 M161.9,250 L591.9,680 M167.5,250 L597.5,680 M173.1,250 L603.1,680 M178.7,250 L608.7,680 M184.3,250 L614.3,680 M189.9,250 L619.9,680 M195.5,250 L625.5,680 M201.1,250 L631.1,680 M206.7,250 L636.7,680 M212.3,250 L642.3,680 M217.9,250 L647.9,680 M223.5,250 L653.5,680 M229.1,250 L659.1,680 M234.7,250 L664.7,680 M240.3,250 L670.3,680 M245.9,250 L675.9,680 M251.5,250 L681.5,680 M257.1,250 L687.1,680 M262.7,250 L692.7,680 M268.3,250 L698.3,680 M273.9,250 L703.9,680 M279.5,250 L709.5,680 M285.1,250 L715.1,680 M290.7,250 L720.7,680 M296.3,250 L726.3,680 M301.9,250 L731.9,680 M307.5,250 L737.5,680 M313.1,250 L743.1,680 M318.7,250 L748.7,680 M324.3,250 L754.3,680 M329.9,250 L759.9,680 M335.5,250 L765.5,680 M341.1,250 L771.1,680 M346.7,250 L776.7,680 M352.3,250 L782.3,680 M357.9,250 L787.9,680 M363.5,250 L793.5,680 M369.1,250 L799.1,680 M374.7,250 L804.7,680 M380.3,250 L810.3,680 M385.9,250 L815.9,680 M391.5,250 L821.5,680 M397.1,250 L827.1,680 M402.7,250 L832.7,680 M408.3,250 L838.3,680 M413.9,250 L843.9,680 M419.5,250 L849.5,680 M425.1,250 L855.1,680 M430.7,250 L860.7,680 M436.3,250 L866.3,680 M441.9,250 L871.9,680 M447.5,250 L877.5,680 M453.1,250 L883.1,680 M458.7,250 L888.7,680 M464.3,250 L894.3,680 M469.9,250 L899.9,680 M475.5,250 L905.5,680 M481.1,250 L911.1,680 M486.7,250 L916.7,680 M492.3,250 L922.3,680 M497.9,250 L927.9,680 M503.5,250 L933.5,680 M509.1,250 L939.1,680 M514.7,250 L944.7,680 M520.3,250 L950.3,680 M525.9,250 L955.9,680 M531.5,250 L961.5,680 M537.1,250 L967.1,680 M542.7,250 L972.7,680 M548.3,250 L978.3,680 M553.9,250 L983.9,680 M559.5,250 L989.5,680 M565.1,250 L995.1,680 M570.7,250 L1000.7,680 M576.3,250 L1006.3,680 M581.9,250 L1011.9,680 M587.5,250 L1017.5,680 M593.1,250 L1023.1,680 M598.7,250 L1028.7,680 M604.3,250 L1034.3,680 M609.9,250 L1039.9,680 M615.5,250 L1045.5,680 M621.1,250 L1051.1,680 M626.7,250 L1056.7,680 M632.3,250 L1062.3,680 M637.9,250 L1067.9,680 M643.5,250 L1073.5,680 M649.1,250 L1079.1,680 M654.7,250 L1084.7,680 M660.3,250 L1090.3,680 M665.9,250 L1095.9,680 M671.5,250 L1101.5,680 M677.1,250 L1107.1,680 M682.7,250 L1112.7,680 M688.3,250 L1118.3,680 M693.9,250 L1123.9,680 M699.5,250 L1129.5,680 M705.1,250 L1135.1,680 M710.7,250 L1140.7,680 M716.3,250 L1146.3,680 M721.9,250 L1151.9,680 M727.5,250 L1157.5,680 M733.1,250 L1163.1,680 M738.7,250 L1168.7,680 M744.3,250 L1174.3,680 M749.9,250 L1179.9,680 M755.5,250 L1185.5,680" fill="none" stroke="#1d1d1b" stroke-width="1.7" clip-path="url(#c10)"/>
<rect x="577.4" y="390.5" width="7.8" height="18.7" fill="none" stroke="#1d1d1b" stroke-width="3.4" />
<path d="M463,453 L481.5,453 L481.5,470.5 L463,470.5 Z" fill="#fff" fill-rule="nonzero"/>
<path d="M349.4,250 L-80.6,680 M356.2,250 L-73.8,680 M363,250 L-67,680 M369.8,250 L-60.2,680 M376.6,250 L-53.4,680 M383.4,250 L-46.6,680 M390.2,250 L-39.8,680 M397,250 L-33,680 M403.8,250 L-26.2,680 M410.6,250 L-19.4,680 M417.4,250 L-12.6,680 M424.2,250 L-5.8,680 M431,250 L1,680 M437.8,250 L7.8,680 M444.6,250 L14.6,680 M451.4,250 L21.4,680 M458.2,250 L28.2,680 M465,250 L35,680 M471.8,250 L41.8,680 M478.6,250 L48.6,680 M485.4,250 L55.4,680 M492.2,250 L62.2,680 M499,250 L69,680 M505.8,250 L75.8,680 M512.6,250 L82.6,680 M519.4,250 L89.4,680 M526.2,250 L96.2,680 M533,250 L103,680 M539.8,250 L109.8,680 M546.6,250 L116.6,680 M553.4,250 L123.4,680 M560.2,250 L130.2,680 M567,250 L137,680 M573.8,250 L143.8,680 M580.6,250 L150.6,680 M587.4,250 L157.4,680 M594.2,250 L164.2,680 M601,250 L171,680 M607.8,250 L177.8,680 M614.6,250 L184.6,680 M621.4,250 L191.4,680 M628.2,250 L198.2,680 M635,250 L205,680 M641.8,250 L211.8,680 M648.6,250 L218.6,680 M655.4,250 L225.4,680 M662.2,250 L232.2,680 M669,250 L239,680 M675.8,250 L245.8,680 M682.6,250 L252.6,680 M689.4,250 L259.4,680 M696.2,250 L266.2,680 M703,250 L273,680 M709.8,250 L279.8,680 M716.6,250 L286.6,680 M723.4,250 L293.4,680 M730.2,250 L300.2,680 M737,250 L307,680 M743.8,250 L313.8,680 M750.6,250 L320.6,680 M757.4,250 L327.4,680 M764.2,250 L334.2,680 M771,250 L341,680 M777.8,250 L347.8,680 M784.6,250 L354.6,680 M791.4,250 L361.4,680 M798.2,250 L368.2,680 M805,250 L375,680 M811.8,250 L381.8,680 M818.6,250 L388.6,680 M825.4,250 L395.4,680 M832.2,250 L402.2,680 M839,250 L409,680 M845.8,250 L415.8,680 M852.6,250 L422.6,680 M859.4,250 L429.4,680 M866.2,250 L436.2,680 M873,250 L443,680 M879.8,250 L449.8,680 M886.6,250 L456.6,680 M893.4,250 L463.4,680 M900.2,250 L470.2,680 M907,250 L477,680 M913.8,250 L483.8,680 M920.6,250 L490.6,680 M927.4,250 L497.4,680 M934.2,250 L504.2,680 M941,250 L511,680 M947.8,250 L517.8,680 M954.6,250 L524.6,680 M961.4,250 L531.4,680 M968.2,250 L538.2,680 M975,250 L545,680 M981.8,250 L551.8,680 M988.6,250 L558.6,680 M995.4,250 L565.4,680 M1002.2,250 L572.2,680 M1009,250 L579,680 M1015.8,250 L585.8,680 M1022.6,250 L592.6,680 M1029.4,250 L599.4,680 M1036.2,250 L606.2,680 M1043,250 L613,680 M1049.8,250 L619.8,680 M1056.6,250 L626.6,680 M1063.4,250 L633.4,680 M1070.2,250 L640.2,680 M1077,250 L647,680 M1083.8,250 L653.8,680 M1090.6,250 L660.6,680 M1097.4,250 L667.4,680 M1104.2,250 L674.2,680 M1111,250 L681,680 M1117.8,250 L687.8,680 M1124.6,250 L694.6,680 M1131.4,250 L701.4,680 M1138.2,250 L708.2,680 M1145,250 L715,680 M1151.8,250 L721.8,680 M1158.6,250 L728.6,680 M1165.4,250 L735.4,680 M1172.2,250 L742.2,680 M1179,250 L749,680 M1185.8,250 L755.8,680 M-85.8,250 L344.2,680 M-79,250 L351,680 M-72.2,250 L357.8,680 M-65.4,250 L364.6,680 M-58.6,250 L371.4,680 M-51.8,250 L378.2,680 M-45,250 L385,680 M-38.2,250 L391.8,680 M-31.4,250 L398.6,680 M-24.6,250 L405.4,680 M-17.8,250 L412.2,680 M-11,250 L419,680 M-4.2,250 L425.8,680 M2.6,250 L432.6,680 M9.4,250 L439.4,680 M16.2,250 L446.2,680 M23,250 L453,680 M29.8,250 L459.8,680 M36.6,250 L466.6,680 M43.4,250 L473.4,680 M50.2,250 L480.2,680 M57,250 L487,680 M63.8,250 L493.8,680 M70.6,250 L500.6,680 M77.4,250 L507.4,680 M84.2,250 L514.2,680 M91,250 L521,680 M97.8,250 L527.8,680 M104.6,250 L534.6,680 M111.4,250 L541.4,680 M118.2,250 L548.2,680 M125,250 L555,680 M131.8,250 L561.8,680 M138.6,250 L568.6,680 M145.4,250 L575.4,680 M152.2,250 L582.2,680 M159,250 L589,680 M165.8,250 L595.8,680 M172.6,250 L602.6,680 M179.4,250 L609.4,680 M186.2,250 L616.2,680 M193,250 L623,680 M199.8,250 L629.8,680 M206.6,250 L636.6,680 M213.4,250 L643.4,680 M220.2,250 L650.2,680 M227,250 L657,680 M233.8,250 L663.8,680 M240.6,250 L670.6,680 M247.4,250 L677.4,680 M254.2,250 L684.2,680 M261,250 L691,680 M267.8,250 L697.8,680 M274.6,250 L704.6,680 M281.4,250 L711.4,680 M288.2,250 L718.2,680 M295,250 L725,680 M301.8,250 L731.8,680 M308.6,250 L738.6,680 M315.4,250 L745.4,680 M322.2,250 L752.2,680 M329,250 L759,680 M335.8,250 L765.8,680 M342.6,250 L772.6,680 M349.4,250 L779.4,680 M356.2,250 L786.2,680 M363,250 L793,680 M369.8,250 L799.8,680 M376.6,250 L806.6,680 M383.4,250 L813.4,680 M390.2,250 L820.2,680 M397,250 L827,680 M403.8,250 L833.8,680 M410.6,250 L840.6,680 M417.4,250 L847.4,680 M424.2,250 L854.2,680 M431,250 L861,680 M437.8,250 L867.8,680 M444.6,250 L874.6,680 M451.4,250 L881.4,680 M458.2,250 L888.2,680 M465,250 L895,680 M471.8,250 L901.8,680 M478.6,250 L908.6,680 M485.4,250 L915.4,680 M492.2,250 L922.2,680 M499,250 L929,680 M505.8,250 L935.8,680 M512.6,250 L942.6,680 M519.4,250 L949.4,680 M526.2,250 L956.2,680 M533,250 L963,680 M539.8,250 L969.8,680 M546.6,250 L976.6,680 M553.4,250 L983.4,680 M560.2,250 L990.2,680 M567,250 L997,680 M573.8,250 L1003.8,680 M580.6,250 L1010.6,680 M587.4,250 L1017.4,680 M594.2,250 L1024.2,680 M601,250 L1031,680 M607.8,250 L1037.8,680 M614.6,250 L1044.6,680 M621.4,250 L1051.4,680 M628.2,250 L1058.2,680 M635,250 L1065,680 M641.8,250 L1071.8,680 M648.6,250 L1078.6,680 M655.4,250 L1085.4,680 M662.2,250 L1092.2,680 M669,250 L1099,680 M675.8,250 L1105.8,680 M682.6,250 L1112.6,680 M689.4,250 L1119.4,680 M696.2,250 L1126.2,680 M703,250 L1133,680 M709.8,250 L1139.8,680 M716.6,250 L1146.6,680 M723.4,250 L1153.4,680 M730.2,250 L1160.2,680 M737,250 L1167,680 M743.8,250 L1173.8,680 M750.6,250 L1180.6,680" fill="none" stroke="#1d1d1b" stroke-width="1.9" clip-path="url(#c11)"/>
<rect x="463" y="453" width="18.5" height="17.5" fill="none" stroke="#1d1d1b" stroke-width="4.2" />
<path d="M618.5,453 L637,453 L637,470.5 L618.5,470.5 Z" fill="#fff" fill-rule="nonzero"/>
<path d="M349.8,250 L-80.2,680 M356.6,250 L-73.4,680 M363.4,250 L-66.6,680 M370.2,250 L-59.8,680 M377,250 L-53,680 M383.8,250 L-46.2,680 M390.6,250 L-39.4,680 M397.4,250 L-32.6,680 M404.2,250 L-25.8,680 M411,250 L-19,680 M417.8,250 L-12.2,680 M424.6,250 L-5.4,680 M431.4,250 L1.4,680 M438.2,250 L8.2,680 M445,250 L15,680 M451.8,250 L21.8,680 M458.6,250 L28.6,680 M465.4,250 L35.4,680 M472.2,250 L42.2,680 M479,250 L49,680 M485.8,250 L55.8,680 M492.6,250 L62.6,680 M499.4,250 L69.4,680 M506.2,250 L76.2,680 M513,250 L83,680 M519.8,250 L89.8,680 M526.6,250 L96.6,680 M533.4,250 L103.4,680 M540.2,250 L110.2,680 M547,250 L117,680 M553.8,250 L123.8,680 M560.6,250 L130.6,680 M567.4,250 L137.4,680 M574.2,250 L144.2,680 M581,250 L151,680 M587.8,250 L157.8,680 M594.6,250 L164.6,680 M601.4,250 L171.4,680 M608.2,250 L178.2,680 M615,250 L185,680 M621.8,250 L191.8,680 M628.6,250 L198.6,680 M635.4,250 L205.4,680 M642.2,250 L212.2,680 M649,250 L219,680 M655.8,250 L225.8,680 M662.6,250 L232.6,680 M669.4,250 L239.4,680 M676.2,250 L246.2,680 M683,250 L253,680 M689.8,250 L259.8,680 M696.6,250 L266.6,680 M703.4,250 L273.4,680 M710.2,250 L280.2,680 M717,250 L287,680 M723.8,250 L293.8,680 M730.6,250 L300.6,680 M737.4,250 L307.4,680 M744.2,250 L314.2,680 M751,250 L321,680 M757.8,250 L327.8,680 M764.6,250 L334.6,680 M771.4,250 L341.4,680 M778.2,250 L348.2,680 M785,250 L355,680 M791.8,250 L361.8,680 M798.6,250 L368.6,680 M805.4,250 L375.4,680 M812.2,250 L382.2,680 M819,250 L389,680 M825.8,250 L395.8,680 M832.6,250 L402.6,680 M839.4,250 L409.4,680 M846.2,250 L416.2,680 M853,250 L423,680 M859.8,250 L429.8,680 M866.6,250 L436.6,680 M873.4,250 L443.4,680 M880.2,250 L450.2,680 M887,250 L457,680 M893.8,250 L463.8,680 M900.6,250 L470.6,680 M907.4,250 L477.4,680 M914.2,250 L484.2,680 M921,250 L491,680 M927.8,250 L497.8,680 M934.6,250 L504.6,680 M941.4,250 L511.4,680 M948.2,250 L518.2,680 M955,250 L525,680 M961.8,250 L531.8,680 M968.6,250 L538.6,680 M975.4,250 L545.4,680 M982.2,250 L552.2,680 M989,250 L559,680 M995.8,250 L565.8,680 M1002.6,250 L572.6,680 M1009.4,250 L579.4,680 M1016.2,250 L586.2,680 M1023,250 L593,680 M1029.8,250 L599.8,680 M1036.6,250 L606.6,680 M1043.4,250 L613.4,680 M1050.2,250 L620.2,680 M1057,250 L627,680 M1063.8,250 L633.8,680 M1070.6,250 L640.6,680 M1077.4,250 L647.4,680 M1084.2,250 L654.2,680 M1091,250 L661,680 M1097.8,250 L667.8,680 M1104.6,250 L674.6,680 M1111.4,250 L681.4,680 M1118.2,250 L688.2,680 M1125,250 L695,680 M1131.8,250 L701.8,680 M1138.6,250 L708.6,680 M1145.4,250 L715.4,680 M1152.2,250 L722.2,680 M1159,250 L729,680 M1165.8,250 L735.8,680 M1172.6,250 L742.6,680 M1179.4,250 L749.4,680 M1186.2,250 L756.2,680 M-85.8,250 L344.2,680 M-79,250 L351,680 M-72.2,250 L357.8,680 M-65.4,250 L364.6,680 M-58.6,250 L371.4,680 M-51.8,250 L378.2,680 M-45,250 L385,680 M-38.2,250 L391.8,680 M-31.4,250 L398.6,680 M-24.6,250 L405.4,680 M-17.8,250 L412.2,680 M-11,250 L419,680 M-4.2,250 L425.8,680 M2.6,250 L432.6,680 M9.4,250 L439.4,680 M16.2,250 L446.2,680 M23,250 L453,680 M29.8,250 L459.8,680 M36.6,250 L466.6,680 M43.4,250 L473.4,680 M50.2,250 L480.2,680 M57,250 L487,680 M63.8,250 L493.8,680 M70.6,250 L500.6,680 M77.4,250 L507.4,680 M84.2,250 L514.2,680 M91,250 L521,680 M97.8,250 L527.8,680 M104.6,250 L534.6,680 M111.4,250 L541.4,680 M118.2,250 L548.2,680 M125,250 L555,680 M131.8,250 L561.8,680 M138.6,250 L568.6,680 M145.4,250 L575.4,680 M152.2,250 L582.2,680 M159,250 L589,680 M165.8,250 L595.8,680 M172.6,250 L602.6,680 M179.4,250 L609.4,680 M186.2,250 L616.2,680 M193,250 L623,680 M199.8,250 L629.8,680 M206.6,250 L636.6,680 M213.4,250 L643.4,680 M220.2,250 L650.2,680 M227,250 L657,680 M233.8,250 L663.8,680 M240.6,250 L670.6,680 M247.4,250 L677.4,680 M254.2,250 L684.2,680 M261,250 L691,680 M267.8,250 L697.8,680 M274.6,250 L704.6,680 M281.4,250 L711.4,680 M288.2,250 L718.2,680 M295,250 L725,680 M301.8,250 L731.8,680 M308.6,250 L738.6,680 M315.4,250 L745.4,680 M322.2,250 L752.2,680 M329,250 L759,680 M335.8,250 L765.8,680 M342.6,250 L772.6,680 M349.4,250 L779.4,680 M356.2,250 L786.2,680 M363,250 L793,680 M369.8,250 L799.8,680 M376.6,250 L806.6,680 M383.4,250 L813.4,680 M390.2,250 L820.2,680 M397,250 L827,680 M403.8,250 L833.8,680 M410.6,250 L840.6,680 M417.4,250 L847.4,680 M424.2,250 L854.2,680 M431,250 L861,680 M437.8,250 L867.8,680 M444.6,250 L874.6,680 M451.4,250 L881.4,680 M458.2,250 L888.2,680 M465,250 L895,680 M471.8,250 L901.8,680 M478.6,250 L908.6,680 M485.4,250 L915.4,680 M492.2,250 L922.2,680 M499,250 L929,680 M505.8,250 L935.8,680 M512.6,250 L942.6,680 M519.4,250 L949.4,680 M526.2,250 L956.2,680 M533,250 L963,680 M539.8,250 L969.8,680 M546.6,250 L976.6,680 M553.4,250 L983.4,680 M560.2,250 L990.2,680 M567,250 L997,680 M573.8,250 L1003.8,680 M580.6,250 L1010.6,680 M587.4,250 L1017.4,680 M594.2,250 L1024.2,680 M601,250 L1031,680 M607.8,250 L1037.8,680 M614.6,250 L1044.6,680 M621.4,250 L1051.4,680 M628.2,250 L1058.2,680 M635,250 L1065,680 M641.8,250 L1071.8,680 M648.6,250 L1078.6,680 M655.4,250 L1085.4,680 M662.2,250 L1092.2,680 M669,250 L1099,680 M675.8,250 L1105.8,680 M682.6,250 L1112.6,680 M689.4,250 L1119.4,680 M696.2,250 L1126.2,680 M703,250 L1133,680 M709.8,250 L1139.8,680 M716.6,250 L1146.6,680 M723.4,250 L1153.4,680 M730.2,250 L1160.2,680 M737,250 L1167,680 M743.8,250 L1173.8,680 M750.6,250 L1180.6,680" fill="none" stroke="#1d1d1b" stroke-width="1.9" clip-path="url(#c12)"/>
<rect x="618.5" y="453" width="18.5" height="17.5" fill="none" stroke="#1d1d1b" stroke-width="4.2" />
<path d="M463,599 L481.5,599 L481.5,616.8 L463,616.8 Z" fill="#fff" fill-rule="nonzero"/>
<path d="M348.8,250 L-81.2,680 M355.6,250 L-74.4,680 M362.4,250 L-67.6,680 M369.2,250 L-60.8,680 M376,250 L-54,680 M382.8,250 L-47.2,680 M389.6,250 L-40.4,680 M396.4,250 L-33.6,680 M403.2,250 L-26.8,680 M410,250 L-20,680 M416.8,250 L-13.2,680 M423.6,250 L-6.4,680 M430.4,250 L0.4,680 M437.2,250 L7.2,680 M444,250 L14,680 M450.8,250 L20.8,680 M457.6,250 L27.6,680 M464.4,250 L34.4,680 M471.2,250 L41.2,680 M478,250 L48,680 M484.8,250 L54.8,680 M491.6,250 L61.6,680 M498.4,250 L68.4,680 M505.2,250 L75.2,680 M512,250 L82,680 M518.8,250 L88.8,680 M525.6,250 L95.6,680 M532.4,250 L102.4,680 M539.2,250 L109.2,680 M546,250 L116,680 M552.8,250 L122.8,680 M559.6,250 L129.6,680 M566.4,250 L136.4,680 M573.2,250 L143.2,680 M580,250 L150,680 M586.8,250 L156.8,680 M593.6,250 L163.6,680 M600.4,250 L170.4,680 M607.2,250 L177.2,680 M614,250 L184,680 M620.8,250 L190.8,680 M627.6,250 L197.6,680 M634.4,250 L204.4,680 M641.2,250 L211.2,680 M648,250 L218,680 M654.8,250 L224.8,680 M661.6,250 L231.6,680 M668.4,250 L238.4,680 M675.2,250 L245.2,680 M682,250 L252,680 M688.8,250 L258.8,680 M695.6,250 L265.6,680 M702.4,250 L272.4,680 M709.2,250 L279.2,680 M716,250 L286,680 M722.8,250 L292.8,680 M729.6,250 L299.6,680 M736.4,250 L306.4,680 M743.2,250 L313.2,680 M750,250 L320,680 M756.8,250 L326.8,680 M763.6,250 L333.6,680 M770.4,250 L340.4,680 M777.2,250 L347.2,680 M784,250 L354,680 M790.8,250 L360.8,680 M797.6,250 L367.6,680 M804.4,250 L374.4,680 M811.2,250 L381.2,680 M818,250 L388,680 M824.8,250 L394.8,680 M831.6,250 L401.6,680 M838.4,250 L408.4,680 M845.2,250 L415.2,680 M852,250 L422,680 M858.8,250 L428.8,680 M865.6,250 L435.6,680 M872.4,250 L442.4,680 M879.2,250 L449.2,680 M886,250 L456,680 M892.8,250 L462.8,680 M899.6,250 L469.6,680 M906.4,250 L476.4,680 M913.2,250 L483.2,680 M920,250 L490,680 M926.8,250 L496.8,680 M933.6,250 L503.6,680 M940.4,250 L510.4,680 M947.2,250 L517.2,680 M954,250 L524,680 M960.8,250 L530.8,680 M967.6,250 L537.6,680 M974.4,250 L544.4,680 M981.2,250 L551.2,680 M988,250 L558,680 M994.8,250 L564.8,680 M1001.6,250 L571.6,680 M1008.4,250 L578.4,680 M1015.2,250 L585.2,680 M1022,250 L592,680 M1028.8,250 L598.8,680 M1035.6,250 L605.6,680 M1042.4,250 L612.4,680 M1049.2,250 L619.2,680 M1056,250 L626,680 M1062.8,250 L632.8,680 M1069.6,250 L639.6,680 M1076.4,250 L646.4,680 M1083.2,250 L653.2,680 M1090,250 L660,680 M1096.8,250 L666.8,680 M1103.6,250 L673.6,680 M1110.4,250 L680.4,680 M1117.2,250 L687.2,680 M1124,250 L694,680 M1130.8,250 L700.8,680 M1137.6,250 L707.6,680 M1144.4,250 L714.4,680 M1151.2,250 L721.2,680 M1158,250 L728,680 M1164.8,250 L734.8,680 M1171.6,250 L741.6,680 M1178.4,250 L748.4,680 M1185.2,250 L755.2,680 M-84.4,250 L345.6,680 M-77.6,250 L352.4,680 M-70.8,250 L359.2,680 M-64,250 L366,680 M-57.2,250 L372.8,680 M-50.4,250 L379.6,680 M-43.6,250 L386.4,680 M-36.8,250 L393.2,680 M-30,250 L400,680 M-23.2,250 L406.8,680 M-16.4,250 L413.6,680 M-9.6,250 L420.4,680 M-2.8,250 L427.2,680 M4,250 L434,680 M10.8,250 L440.8,680 M17.6,250 L447.6,680 M24.4,250 L454.4,680 M31.2,250 L461.2,680 M38,250 L468,680 M44.8,250 L474.8,680 M51.6,250 L481.6,680 M58.4,250 L488.4,680 M65.2,250 L495.2,680 M72,250 L502,680 M78.8,250 L508.8,680 M85.6,250 L515.6,680 M92.4,250 L522.4,680 M99.2,250 L529.2,680 M106,250 L536,680 M112.8,250 L542.8,680 M119.6,250 L549.6,680 M126.4,250 L556.4,680 M133.2,250 L563.2,680 M140,250 L570,680 M146.8,250 L576.8,680 M153.6,250 L583.6,680 M160.4,250 L590.4,680 M167.2,250 L597.2,680 M174,250 L604,680 M180.8,250 L610.8,680 M187.6,250 L617.6,680 M194.4,250 L624.4,680 M201.2,250 L631.2,680 M208,250 L638,680 M214.8,250 L644.8,680 M221.6,250 L651.6,680 M228.4,250 L658.4,680 M235.2,250 L665.2,680 M242,250 L672,680 M248.8,250 L678.8,680 M255.6,250 L685.6,680 M262.4,250 L692.4,680 M269.2,250 L699.2,680 M276,250 L706,680 M282.8,250 L712.8,680 M289.6,250 L719.6,680 M296.4,250 L726.4,680 M303.2,250 L733.2,680 M310,250 L740,680 M316.8,250 L746.8,680 M323.6,250 L753.6,680 M330.4,250 L760.4,680 M337.2,250 L767.2,680 M344,250 L774,680 M350.8,250 L780.8,680 M357.6,250 L787.6,680 M364.4,250 L794.4,680 M371.2,250 L801.2,680 M378,250 L808,680 M384.8,250 L814.8,680 M391.6,250 L821.6,680 M398.4,250 L828.4,680 M405.2,250 L835.2,680 M412,250 L842,680 M418.8,250 L848.8,680 M425.6,250 L855.6,680 M432.4,250 L862.4,680 M439.2,250 L869.2,680 M446,250 L876,680 M452.8,250 L882.8,680 M459.6,250 L889.6,680 M466.4,250 L896.4,680 M473.2,250 L903.2,680 M480,250 L910,680 M486.8,250 L916.8,680 M493.6,250 L923.6,680 M500.4,250 L930.4,680 M507.2,250 L937.2,680 M514,250 L944,680 M520.8,250 L950.8,680 M527.6,250 L957.6,680 M534.4,250 L964.4,680 M541.2,250 L971.2,680 M548,250 L978,680 M554.8,250 L984.8,680 M561.6,250 L991.6,680 M568.4,250 L998.4,680 M575.2,250 L1005.2,680 M582,250 L1012,680 M588.8,250 L1018.8,680 M595.6,250 L1025.6,680 M602.4,250 L1032.4,680 M609.2,250 L1039.2,680 M616,250 L1046,680 M622.8,250 L1052.8,680 M629.6,250 L1059.6,680 M636.4,250 L1066.4,680 M643.2,250 L1073.2,680 M650,250 L1080,680 M656.8,250 L1086.8,680 M663.6,250 L1093.6,680 M670.4,250 L1100.4,680 M677.2,250 L1107.2,680 M684,250 L1114,680 M690.8,250 L1120.8,680 M697.6,250 L1127.6,680 M704.4,250 L1134.4,680 M711.2,250 L1141.2,680 M718,250 L1148,680 M724.8,250 L1154.8,680 M731.6,250 L1161.6,680 M738.4,250 L1168.4,680 M745.2,250 L1175.2,680 M752,250 L1182,680" fill="none" stroke="#1d1d1b" stroke-width="1.9" clip-path="url(#c13)"/>
<rect x="463" y="599" width="18.5" height="17.8" fill="none" stroke="#1d1d1b" stroke-width="4.2" />
<path d="M618.5,599 L637,599 L637,616.8 L618.5,616.8 Z" fill="#fff" fill-rule="nonzero"/>
<path d="M348.9,250 L-81.1,680 M355.7,250 L-74.3,680 M362.5,250 L-67.5,680 M369.3,250 L-60.7,680 M376.1,250 L-53.9,680 M382.9,250 L-47.1,680 M389.7,250 L-40.3,680 M396.5,250 L-33.5,680 M403.3,250 L-26.7,680 M410.1,250 L-19.9,680 M416.9,250 L-13.1,680 M423.7,250 L-6.3,680 M430.5,250 L0.5,680 M437.3,250 L7.3,680 M444.1,250 L14.1,680 M450.9,250 L20.9,680 M457.7,250 L27.7,680 M464.5,250 L34.5,680 M471.3,250 L41.3,680 M478.1,250 L48.1,680 M484.9,250 L54.9,680 M491.7,250 L61.7,680 M498.5,250 L68.5,680 M505.3,250 L75.3,680 M512.1,250 L82.1,680 M518.9,250 L88.9,680 M525.7,250 L95.7,680 M532.5,250 L102.5,680 M539.3,250 L109.3,680 M546.1,250 L116.1,680 M552.9,250 L122.9,680 M559.7,250 L129.7,680 M566.5,250 L136.5,680 M573.3,250 L143.3,680 M580.1,250 L150.1,680 M586.9,250 L156.9,680 M593.7,250 L163.7,680 M600.5,250 L170.5,680 M607.3,250 L177.3,680 M614.1,250 L184.1,680 M620.9,250 L190.9,680 M627.7,250 L197.7,680 M634.5,250 L204.5,680 M641.3,250 L211.3,680 M648.1,250 L218.1,680 M654.9,250 L224.9,680 M661.7,250 L231.7,680 M668.5,250 L238.5,680 M675.3,250 L245.3,680 M682.1,250 L252.1,680 M688.9,250 L258.9,680 M695.7,250 L265.7,680 M702.5,250 L272.5,680 M709.3,250 L279.3,680 M716.1,250 L286.1,680 M722.9,250 L292.9,680 M729.7,250 L299.7,680 M736.5,250 L306.5,680 M743.3,250 L313.3,680 M750.1,250 L320.1,680 M756.9,250 L326.9,680 M763.7,250 L333.7,680 M770.5,250 L340.5,680 M777.3,250 L347.3,680 M784.1,250 L354.1,680 M790.9,250 L360.9,680 M797.7,250 L367.7,680 M804.5,250 L374.5,680 M811.3,250 L381.3,680 M818.1,250 L388.1,680 M824.9,250 L394.9,680 M831.7,250 L401.7,680 M838.5,250 L408.5,680 M845.3,250 L415.3,680 M852.1,250 L422.1,680 M858.9,250 L428.9,680 M865.7,250 L435.7,680 M872.5,250 L442.5,680 M879.3,250 L449.3,680 M886.1,250 L456.1,680 M892.9,250 L462.9,680 M899.7,250 L469.7,680 M906.5,250 L476.5,680 M913.3,250 L483.3,680 M920.1,250 L490.1,680 M926.9,250 L496.9,680 M933.7,250 L503.7,680 M940.5,250 L510.5,680 M947.3,250 L517.3,680 M954.1,250 L524.1,680 M960.9,250 L530.9,680 M967.7,250 L537.7,680 M974.5,250 L544.5,680 M981.3,250 L551.3,680 M988.1,250 L558.1,680 M994.9,250 L564.9,680 M1001.7,250 L571.7,680 M1008.5,250 L578.5,680 M1015.3,250 L585.3,680 M1022.1,250 L592.1,680 M1028.9,250 L598.9,680 M1035.7,250 L605.7,680 M1042.5,250 L612.5,680 M1049.3,250 L619.3,680 M1056.1,250 L626.1,680 M1062.9,250 L632.9,680 M1069.7,250 L639.7,680 M1076.5,250 L646.5,680 M1083.3,250 L653.3,680 M1090.1,250 L660.1,680 M1096.9,250 L666.9,680 M1103.7,250 L673.7,680 M1110.5,250 L680.5,680 M1117.3,250 L687.3,680 M1124.1,250 L694.1,680 M1130.9,250 L700.9,680 M1137.7,250 L707.7,680 M1144.5,250 L714.5,680 M1151.3,250 L721.3,680 M1158.1,250 L728.1,680 M1164.9,250 L734.9,680 M1171.7,250 L741.7,680 M1178.5,250 L748.5,680 M1185.3,250 L755.3,680 M-85.5,250 L344.5,680 M-78.7,250 L351.3,680 M-71.9,250 L358.1,680 M-65.1,250 L364.9,680 M-58.3,250 L371.7,680 M-51.5,250 L378.5,680 M-44.7,250 L385.3,680 M-37.9,250 L392.1,680 M-31.1,250 L398.9,680 M-24.3,250 L405.7,680 M-17.5,250 L412.5,680 M-10.7,250 L419.3,680 M-3.9,250 L426.1,680 M2.9,250 L432.9,680 M9.7,250 L439.7,680 M16.5,250 L446.5,680 M23.3,250 L453.3,680 M30.1,250 L460.1,680 M36.9,250 L466.9,680 M43.7,250 L473.7,680 M50.5,250 L480.5,680 M57.3,250 L487.3,680 M64.1,250 L494.1,680 M70.9,250 L500.9,680 M77.7,250 L507.7,680 M84.5,250 L514.5,680 M91.3,250 L521.3,680 M98.1,250 L528.1,680 M104.9,250 L534.9,680 M111.7,250 L541.7,680 M118.5,250 L548.5,680 M125.3,250 L555.3,680 M132.1,250 L562.1,680 M138.9,250 L568.9,680 M145.7,250 L575.7,680 M152.5,250 L582.5,680 M159.3,250 L589.3,680 M166.1,250 L596.1,680 M172.9,250 L602.9,680 M179.7,250 L609.7,680 M186.5,250 L616.5,680 M193.3,250 L623.3,680 M200.1,250 L630.1,680 M206.9,250 L636.9,680 M213.7,250 L643.7,680 M220.5,250 L650.5,680 M227.3,250 L657.3,680 M234.1,250 L664.1,680 M240.9,250 L670.9,680 M247.7,250 L677.7,680 M254.5,250 L684.5,680 M261.3,250 L691.3,680 M268.1,250 L698.1,680 M274.9,250 L704.9,680 M281.7,250 L711.7,680 M288.5,250 L718.5,680 M295.3,250 L725.3,680 M302.1,250 L732.1,680 M308.9,250 L738.9,680 M315.7,250 L745.7,680 M322.5,250 L752.5,680 M329.3,250 L759.3,680 M336.1,250 L766.1,680 M342.9,250 L772.9,680 M349.7,250 L779.7,680 M356.5,250 L786.5,680 M363.3,250 L793.3,680 M370.1,250 L800.1,680 M376.9,250 L806.9,680 M383.7,250 L813.7,680 M390.5,250 L820.5,680 M397.3,250 L827.3,680 M404.1,250 L834.1,680 M410.9,250 L840.9,680 M417.7,250 L847.7,680 M424.5,250 L854.5,680 M431.3,250 L861.3,680 M438.1,250 L868.1,680 M444.9,250 L874.9,680 M451.7,250 L881.7,680 M458.5,250 L888.5,680 M465.3,250 L895.3,680 M472.1,250 L902.1,680 M478.9,250 L908.9,680 M485.7,250 L915.7,680 M492.5,250 L922.5,680 M499.3,250 L929.3,680 M506.1,250 L936.1,680 M512.9,250 L942.9,680 M519.7,250 L949.7,680 M526.5,250 L956.5,680 M533.3,250 L963.3,680 M540.1,250 L970.1,680 M546.9,250 L976.9,680 M553.7,250 L983.7,680 M560.5,250 L990.5,680 M567.3,250 L997.3,680 M574.1,250 L1004.1,680 M580.9,250 L1010.9,680 M587.7,250 L1017.7,680 M594.5,250 L1024.5,680 M601.3,250 L1031.3,680 M608.1,250 L1038.1,680 M614.9,250 L1044.9,680 M621.7,250 L1051.7,680 M628.5,250 L1058.5,680 M635.3,250 L1065.3,680 M642.1,250 L1072.1,680 M648.9,250 L1078.9,680 M655.7,250 L1085.7,680 M662.5,250 L1092.5,680 M669.3,250 L1099.3,680 M676.1,250 L1106.1,680 M682.9,250 L1112.9,680 M689.7,250 L1119.7,680 M696.5,250 L1126.5,680 M703.3,250 L1133.3,680 M710.1,250 L1140.1,680 M716.9,250 L1146.9,680 M723.7,250 L1153.7,680 M730.5,250 L1160.5,680 M737.3,250 L1167.3,680 M744.1,250 L1174.1,680 M750.9,250 L1180.9,680" fill="none" stroke="#1d1d1b" stroke-width="1.9" clip-path="url(#c14)"/>
<rect x="618.5" y="599" width="18.5" height="17.8" fill="none" stroke="#1d1d1b" stroke-width="4.2" />
<path d="M481,451.4 L487,451.4 L481,457.5 Z" fill="#1d1d1b" stroke="none" stroke-width="0" />
<path d="M619,451.4 L613,451.4 L619,457.5 Z" fill="#1d1d1b" stroke="none" stroke-width="0" />
<line x1="463.8" y1="470" x2="463.8" y2="599" stroke="#1d1d1b" stroke-width="6" />
<line x1="472.8" y1="470" x2="472.8" y2="599" stroke="#1d1d1b" stroke-width="3.5" />
<line x1="479.2" y1="470" x2="479.2" y2="599" stroke="#1d1d1b" stroke-width="5.6" />
<line x1="636.2" y1="470" x2="636.2" y2="599" stroke="#1d1d1b" stroke-width="6" />
<line x1="627.2" y1="470" x2="627.2" y2="599" stroke="#1d1d1b" stroke-width="3.5" />
<line x1="620.8" y1="470" x2="620.8" y2="599" stroke="#1d1d1b" stroke-width="5.6" />
<line x1="452.5" y1="471.8" x2="648" y2="471.8" stroke="#1d1d1b" stroke-width="3.9" />
<line x1="452.5" y1="597.8" x2="648" y2="597.8" stroke="#1d1d1b" stroke-width="3.9" />
<line x1="373" y1="450.1" x2="446" y2="450.1" stroke="#1d1d1b" stroke-width="3" />
<line x1="373" y1="619.6" x2="446" y2="619.6" stroke="#1d1d1b" stroke-width="3" />
<path d="M380.5,457.4 L446,457.4 L446,612.1 L380.5,612.1 Z" fill="none" stroke="#1d1d1b" stroke-width="3.9" />
<line x1="446" y1="448.6" x2="446" y2="458" stroke="#1d1d1b" stroke-width="3.9" />
<line x1="446" y1="611" x2="446" y2="621" stroke="#1d1d1b" stroke-width="3.9" />
<path d="M446,457.4 L452.5,457.4 L452.5,612.1 L446,612.1" fill="none" stroke="#1d1d1b" stroke-width="3.9" />
<line x1="373" y1="450.1" x2="380.5" y2="457.4" stroke="#1d1d1b" stroke-width="3" />
<line x1="373" y1="619.6" x2="380.5" y2="612.1" stroke="#1d1d1b" stroke-width="3" />
<line x1="727.2" y1="450.1" x2="654.2" y2="450.1" stroke="#1d1d1b" stroke-width="3" />
<line x1="727.2" y1="619.6" x2="654.2" y2="619.6" stroke="#1d1d1b" stroke-width="3" />
<path d="M719.7,457.4 L654.2,457.4 L654.2,612.1 L719.7,612.1 Z" fill="none" stroke="#1d1d1b" stroke-width="3.9" />
<line x1="654.2" y1="448.6" x2="654.2" y2="458" stroke="#1d1d1b" stroke-width="3.9" />
<line x1="654.2" y1="611" x2="654.2" y2="621" stroke="#1d1d1b" stroke-width="3.9" />
<path d="M654.2,457.4 L647.7,457.4 L647.7,612.1 L654.2,612.1" fill="none" stroke="#1d1d1b" stroke-width="3.9" />
<line x1="727.2" y1="450.1" x2="719.7" y2="457.4" stroke="#1d1d1b" stroke-width="3" />
<line x1="727.2" y1="619.6" x2="719.7" y2="612.1" stroke="#1d1d1b" stroke-width="3" />
<path d="M373,438 L377,434 L477,434 L487,422.4 L502.6,422.4 L502.6,362.4" fill="none" stroke="#1d1d1b" stroke-width="3.9" stroke-linejoin="round"/>
<path d="M597.4,362.4 L597.4,413.6 Q597.4,417.6 601.4,417.6 L614,417.6 L614,414.5 L650.5,414.5 L653.8,434 L723,434 L727.2,438.6 L727.2,631.4 L722.4,636.1 L653,636.1 L649.7,656 L615,656 L613,652.5 L576,652.5 L572,646.2 L486,646.2 L477.2,636.1 L377,636.1 Q373,636.1 373,632 L373,438" fill="none" stroke="#1d1d1b" stroke-width="3.9" stroke-linejoin="round"/>
<rect x="597.4" y="362.4" width="25.6" height="31.2" fill="#fff" stroke="#1d1d1b" stroke-width="3.9" />
<line x1="611.6" y1="362.4" x2="611.6" y2="393.6" stroke="#1d1d1b" stroke-width="3.9" />
<path d="M524.5,309 L493.4,309 L490.2,276 Q490,273.8 487.8,273.8 L396.6,273.8 Q394.5,273.8 394.3,276 L388.2,362.2 L511,362.2" fill="none" stroke="#1d1d1b" stroke-width="4.4" stroke-linejoin="round"/>
<path d="M575.5,309 L606.6,309 L609.8,276 Q610,273.8 612.2,273.8 L703.4,273.8 Q705.5,273.8 705.7,276 L711.8,362.2 L584,362.2" fill="none" stroke="#1d1d1b" stroke-width="4.4" stroke-linejoin="round"/>
<path d="M488.4,362.2 L496,331 L524.5,331" fill="none" stroke="#1d1d1b" stroke-width="4.4" stroke-linejoin="round"/>
<path d="M611.6,362.2 L604,331 L575.5,331" fill="none" stroke="#1d1d1b" stroke-width="4.4" stroke-linejoin="round"/>
<line x1="388" y1="173.5" x2="388" y2="322" stroke="#1d1d1b" stroke-width="1.9" />
<line x1="712" y1="173.5" x2="712" y2="324" stroke="#1d1d1b" stroke-width="1.9" />
<line x1="122" y1="276" x2="394" y2="276" stroke="#1d1d1b" stroke-width="1.9" />
<line x1="122" y1="534.8" x2="205" y2="534.8" stroke="#1d1d1b" stroke-width="1.9" />
<line x1="272" y1="450" x2="373" y2="450" stroke="#1d1d1b" stroke-width="1.9" />
<line x1="272" y1="619.6" x2="373" y2="619.6" stroke="#1d1d1b" stroke-width="1.9" />
<line x1="727" y1="450.8" x2="897" y2="450.8" stroke="#1d1d1b" stroke-width="1.9" />
<line x1="727" y1="620.2" x2="897" y2="620.2" stroke="#1d1d1b" stroke-width="1.9" />
<line x1="648" y1="471.6" x2="826.5" y2="471.6" stroke="#1d1d1b" stroke-width="1.9" />
<line x1="648" y1="598" x2="828.5" y2="598" stroke="#1d1d1b" stroke-width="1.9" />
<line x1="809.1" y1="471.6" x2="809.1" y2="598" stroke="#1d1d1b" stroke-width="1.9" />
<line x1="372.6" y1="636" x2="372.6" y2="834" stroke="#1d1d1b" stroke-width="1.9" />
<line x1="445.6" y1="618" x2="445.6" y2="761.5" stroke="#1d1d1b" stroke-width="1.9" />
<line x1="372.6" y1="751" x2="445.6" y2="751" stroke="#1d1d1b" stroke-width="1.9" />
<line x1="654.8" y1="625" x2="654.8" y2="766" stroke="#1d1d1b" stroke-width="1.9" />
<line x1="727.6" y1="636" x2="727.6" y2="839" stroke="#1d1d1b" stroke-width="1.9" />
<line x1="654.8" y1="754.4" x2="727.6" y2="754.4" stroke="#1d1d1b" stroke-width="1.9" />
<line x1="347" y1="533.6" x2="378" y2="533.6" stroke="#1d1d1b" stroke-width="1.9" />
<line x1="405.6" y1="533.6" x2="436.3" y2="533.6" stroke="#1d1d1b" stroke-width="1.9" />
<line x1="464" y1="533.6" x2="494.6" y2="533.6" stroke="#1d1d1b" stroke-width="1.9" />
<line x1="522.4" y1="533.6" x2="553.4" y2="533.6" stroke="#1d1d1b" stroke-width="1.9" />
<line x1="580.7" y1="533.6" x2="611.4" y2="533.6" stroke="#1d1d1b" stroke-width="1.9" />
<line x1="638.7" y1="533.6" x2="670.2" y2="533.6" stroke="#1d1d1b" stroke-width="1.9" />
<line x1="698" y1="533.6" x2="727" y2="533.6" stroke="#1d1d1b" stroke-width="1.9" />
<polygon points="388.5,181.2 438.5,195.1 438.5,167.3" fill="#1d1d1b"/>
<polygon points="708.5,181.2 658.5,195.1 658.5,167.3" fill="#1d1d1b"/>
<line x1="438.5" y1="181.2" x2="658.5" y2="181.2" stroke="#1d1d1b" stroke-width="4.6" />
<polygon points="144,280 130.1,330.6 157.9,330.6" fill="#1d1d1b"/>
<polygon points="144,532.2 130.1,481.6 157.9,481.6" fill="#1d1d1b"/>
<line x1="144" y1="330.6" x2="144" y2="481.6" stroke="#1d1d1b" stroke-width="4.6" />
<polygon points="301.2,452 287.3,502 315.1,502" fill="#1d1d1b"/>
<polygon points="301.2,618 287.3,568 315.1,568" fill="#1d1d1b"/>
<line x1="301.2" y1="502" x2="301.2" y2="568" stroke="#1d1d1b" stroke-width="4.6" />
<polygon points="888,452.5 874.1,502.5 901.9,502.5" fill="#1d1d1b"/>
<polygon points="888,618.8 874.1,568.8 901.9,568.8" fill="#1d1d1b"/>
<line x1="888" y1="502.5" x2="888" y2="568.8" stroke="#1d1d1b" stroke-width="4.6" />
<polygon points="373.4,826.3 423.4,840.2 423.4,812.4" fill="#1d1d1b"/>
<polygon points="727.4,826.3 677.4,840.2 677.4,812.4" fill="#1d1d1b"/>
<line x1="423.4" y1="826.3" x2="677.4" y2="826.3" stroke="#1d1d1b" stroke-width="4.6" />
<polygon points="372,751 322,764.9 322,737.1" fill="#1d1d1b"/>
<line x1="295" y1="751" x2="322" y2="751" stroke="#1d1d1b" stroke-width="4.6" />
<polygon points="446,751 496,737.1 496,764.9" fill="#1d1d1b"/>
<line x1="509" y1="751" x2="496" y2="751" stroke="#1d1d1b" stroke-width="4.6" />
<polygon points="654,754.4 604,768.3 604,740.5" fill="#1d1d1b"/>
<line x1="591.2" y1="754.4" x2="604" y2="754.4" stroke="#1d1d1b" stroke-width="4.6" />
<polygon points="729,754.4 779,740.5 779,768.3" fill="#1d1d1b"/>
<line x1="806" y1="754.4" x2="779" y2="754.4" stroke="#1d1d1b" stroke-width="4.6" />
<polygon points="809.1,471 795.2,421 823,421" fill="#1d1d1b"/>
<line x1="809.1" y1="375.7" x2="809.1" y2="421" stroke="#1d1d1b" stroke-width="4.6" />
<polygon points="809.1,598.6 823,648.6 795.2,648.6" fill="#1d1d1b"/>
<line x1="809.1" y1="659.6" x2="809.1" y2="648.6" stroke="#1d1d1b" stroke-width="4.6" />
<text transform="translate(519,153.7) scale(0.96,1)" font-size="68.46" fill="#0a0a0a" stroke="#fff" stroke-width="1.2" vector-effect="non-scaling-stroke">D</text>
<text transform="translate(530.43,904.4) scale(0.97,1)" font-size="68.9" fill="#0a0a0a" stroke="#fff" stroke-width="1.2" vector-effect="non-scaling-stroke">B</text>
<text transform="translate(245.41,730.06) scale(0.98,1)" font-size="68.79" fill="#0a0a0a" stroke="#fff" stroke-width="1.1" vector-effect="non-scaling-stroke">C</text>
<text transform="translate(805,734.76) scale(0.98,1)" font-size="68.79" fill="#0a0a0a" stroke="#fff" stroke-width="1.1" vector-effect="non-scaling-stroke">C</text>
<text transform="translate(269.3,558.44) rotate(-90) scale(1.02,1)" font-size="69.04" fill="#0a0a0a" stroke="#fff" stroke-width="1" vector-effect="non-scaling-stroke">A</text>
<text transform="translate(970.6,558.04) rotate(-90) scale(1.01,1)" font-size="68.9" fill="#0a0a0a" stroke="#fff" stroke-width="1" vector-effect="non-scaling-stroke">A</text>
<text transform="translate(88.15,417.72) rotate(-90) scale(0.81,1)" font-size="68.46" fill="#0a0a0a" stroke="#fff" stroke-width="0.5" vector-effect="non-scaling-stroke">E</text>
<text transform="translate(785.99,402.05) rotate(-90) scale(1.12,1)" font-size="71.16" fill="#0a0a0a" stroke="#fff" stroke-width="1.6" vector-effect="non-scaling-stroke">d</text>
</svg>
</body>
</html>
